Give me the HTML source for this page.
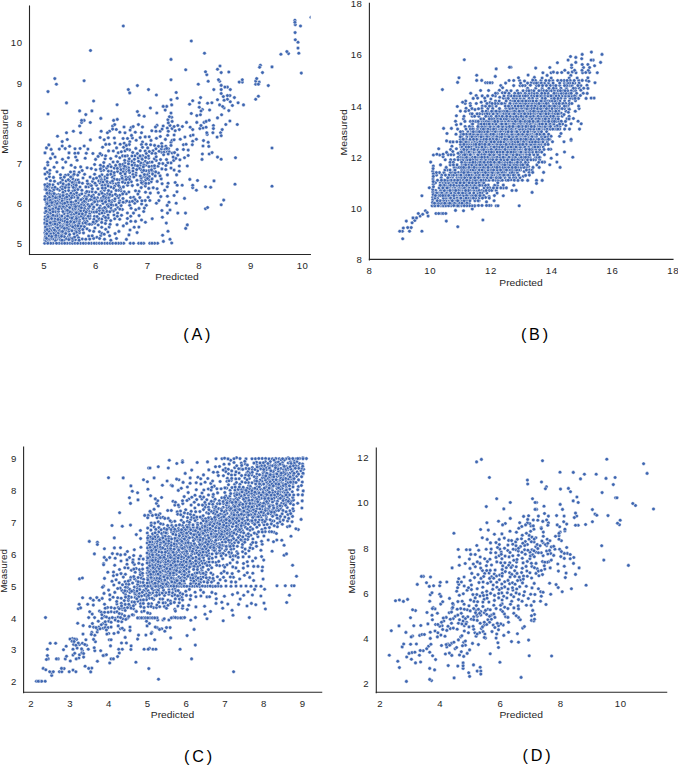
<!DOCTYPE html>
<html><head><meta charset="utf-8"><style>
html,body{margin:0;padding:0;background:#fff;width:678px;height:766px;overflow:hidden}
svg{display:block}
text{font-family:"Liberation Sans",sans-serif}
.t{font-size:9.60px;fill:#262626}
.l{font-size:9.30px;fill:#262626}
.p{font-size:16.20px;fill:#000}
.ax{stroke:#262626;stroke-width:1.1;stroke-linecap:square}
.pts{fill:none;stroke:none;marker-start:url(#m);marker-mid:url(#m);marker-end:url(#m)}
</style></head><body>
<svg width="678" height="766" viewBox="0 0 678 766">
<defs><clipPath id="clipA"><rect x="0" y="0" width="310.6" height="260"/></clipPath><marker id="m" markerUnits="userSpaceOnUse" markerWidth="6" markerHeight="6" refX="3" refY="3" overflow="visible"><circle cx="3" cy="3" r="1.80" fill="#3E66B1" stroke="#fff" stroke-width="0.45"/></marker></defs>
<path class="pts" clip-path="url(#clipA)" d="M219.6 81.3 45.1 212.8 49.7 240.1 114.1 175.2 46.2 202.1 175.2 182.5 100.8 178.2 59.6 199.3 49.3 225.0 117.6 213.1 77.4 229.9 49.3 176.7 139.0 191.4 124.9 182.8 103.0 203.4 171.0 168.1 50.9 232.0 171.0 113.1 176.2 203.2 52.1 233.1 259.2 82.1 64.7 185.2 145.8 165.3 55.4 224.9 135.7 209.8 76.5 227.4 108.0 215.1 57.5 136.2 157.1 188.7 72.5 223.7 142.7 183.6 75.0 148.8 167.3 128.1 156.2 160.5 116.6 147.9 224.1 108.0 68.9 221.9 105.1 158.8 56.8 162.5 200.4 114.8 143.7 181.9 137.0 180.3 47.4 185.4 70.3 229.9 151.9 166.2 114.2 168.1 57.7 205.2 213.4 125.5 47.5 237.1 79.5 232.7 150.4 108.0 105.9 208.8 76.0 183.2 139.0 115.3 70.2 214.2 65.1 191.0 62.2 141.6 44.9 232.8 90.3 122.5 66.0 211.3 138.9 227.1 51.6 211.1 150.6 144.8 122.4 209.5 105.0 176.9 50.6 226.9 65.7 162.1 157.0 125.4 65.7 201.6 111.3 171.4 56.2 238.2 203.5 140.6 230.3 101.8 53.4 237.0 142.7 155.7 268.3 85.6 93.3 195.0 72.2 185.7 209.2 154.0 74.4 228.0 82.8 198.7 46.8 235.9 69.9 217.5 84.9 206.2 49.0 215.7 64.0 240.3 70.0 243.3 146.2 144.3 102.6 147.2 60.7 178.0 64.2 195.0 219.6 104.9 136.2 140.3 173.7 160.4 142.5 142.0 78.2 202.9 64.3 196.7 301.3 73.1 202.4 109.6 190.6 135.7 65.7 209.3 46.9 190.4 66.5 102.9 48.4 213.6 77.7 220.0 149.8 162.2 78.5 217.3 126.7 223.4 155.5 127.0 106.7 195.6 120.9 190.7 100.8 235.6 148.8 188.4 158.5 173.0 120.2 166.5 153.1 150.7 235.5 157.7 54.7 210.3 183.4 149.5 156.4 95.0 92.9 199.8 44.9 168.4 79.2 172.3 101.9 174.8 78.3 211.7 52.5 230.7 52.7 153.9 129.7 205.3 105.0 184.9 45.0 152.9 145.2 151.1 137.4 85.6 69.8 181.0 76.9 195.4 65.5 216.8 74.0 194.1 59.9 228.0 228.8 72.0 117.8 207.5 71.0 211.2 55.0 233.6 157.6 243.3 86.0 218.7 48.8 211.9 82.7 225.5 96.4 185.3 103.8 162.6 88.5 186.8 52.9 220.1 50.9 221.9 54.0 235.1 217.5 157.1 99.0 194.4 72.8 191.0 139.0 208.4 145.2 200.6 50.4 180.8 118.9 231.4 120.2 144.2 57.8 232.0 260.4 65.2 89.7 218.4 223.3 96.6 86.8 223.9 59.4 190.3 167.5 213.1 65.9 232.5 133.2 168.2 129.6 201.9 255.7 99.3 130.6 197.5 54.1 167.2 79.4 230.6 107.7 193.4 101.7 227.3 192.7 100.7 139.8 197.6 62.5 180.1 168.5 148.7 68.4 236.5 90.1 177.1 71.6 214.5 168.0 231.3 165.2 110.1 134.7 203.3 74.0 220.0 186.5 122.4 166.7 106.4 92.1 211.9 155.6 153.5 78.2 153.1 52.3 191.3 73.1 217.0 100.1 137.5 66.7 205.9 68.0 213.3 54.0 217.5 87.1 167.8 57.5 234.8 164.9 149.3 183.4 144.7 151.2 181.8 58.3 183.6 203.0 128.0 207.6 103.2 112.4 200.5 171.0 162.9 119.7 200.8 148.8 173.0 165.8 169.5 137.2 201.2 79.5 228.3 175.8 158.4 115.3 209.6 45.4 229.1 131.9 161.4 272.0 186.2 243.5 104.9 114.0 215.0 109.7 164.7 118.5 197.6 55.1 227.6 131.1 208.3 85.3 214.7 52.5 187.8 55.9 232.9 72.8 222.2 132.4 138.0 57.9 229.5 148.7 158.1 45.2 239.0 59.3 232.4 114.6 200.8 154.6 168.0 69.0 204.3 125.0 150.9 49.8 227.5 45.3 216.7 152.1 162.1 167.9 119.8 53.0 184.8 179.9 159.8 255.7 84.2 68.2 174.8 85.7 243.3 76.9 209.3 66.4 238.7 167.8 162.8 57.1 239.2 161.7 152.2 152.4 171.4 46.0 225.2 53.9 233.1 171.7 117.2 149.8 200.5 77.1 207.7 208.2 142.3 55.0 238.8 75.3 239.8 68.6 198.6 88.4 200.5 227.4 99.3 132.3 185.6 130.7 216.2 100.2 206.0 69.8 237.6 45.9 209.8 80.7 166.9 78.4 207.4 45.3 224.3 170.0 210.0 204.1 122.4 101.8 155.0 101.4 198.3 97.4 197.8 138.2 157.9 145.3 161.3 66.5 132.8 149.2 136.8 117.1 224.7 75.6 157.0 93.0 208.8 57.0 171.8 102.1 185.4 115.1 233.6 71.7 220.0 147.3 174.9 141.6 204.0 105.0 179.6 85.6 202.3 77.2 235.6 149.0 179.5 118.2 152.7 126.2 171.6 98.3 220.0 49.4 173.6 288.5 53.6 75.6 230.9 46.5 147.9 71.6 212.1 47.8 165.0 94.6 174.2 53.4 197.3 69.0 210.1 56.2 216.6 75.3 225.6 82.3 239.0 44.7 243.3 54.0 206.7 272.0 148.0 94.9 228.0 170.0 239.3 116.1 183.9 192.7 141.2 98.0 188.8 109.7 196.5 48.1 240.7 164.7 190.2 92.0 191.6 55.3 240.5 177.0 191.8 52.9 238.9 101.8 219.1 101.8 233.3 84.1 120.4 134.2 163.0 66.4 185.4 127.6 185.3 187.3 166.0 72.8 175.7 229.9 95.6 242.3 82.1 94.8 223.2 108.6 150.9 48.4 200.9 59.4 205.1 82.2 170.5 149.8 243.3 150.3 193.1 56.1 226.7 97.1 204.7 171.0 59.4 220.0 66.0 114.9 143.1 208.8 146.4 73.6 202.6 191.3 113.5 152.1 178.9 123.7 243.3 62.5 218.8 103.6 170.2 160.6 159.6 101.7 222.4 63.8 224.4 96.5 243.3 177.2 149.5 45.6 222.0 53.1 204.4 141.5 144.6 167.4 151.7 65.2 148.6 141.5 220.0 74.6 210.4 135.5 190.8 51.1 238.3 105.6 155.8 142.2 171.9 190.2 127.2 196.8 115.6 68.5 224.9 49.5 204.5 96.9 237.3 91.3 168.6 99.5 213.8 136.0 173.1 65.2 218.4 51.6 216.6 104.4 190.2 125.3 202.1 80.8 226.2 137.9 194.1 77.7 222.4 70.5 225.8 143.7 243.3 163.2 106.4 123.0 198.5 171.7 243.0 154.6 243.3 52.0 198.0 135.0 155.8 80.3 214.0 76.8 215.3 57.4 237.0 192.3 144.7 163.2 126.0 44.9 240.1 45.5 186.9 72.5 243.3 161.3 149.0 201.0 111.0 52.9 228.5 171.0 142.3 79.3 209.1 67.0 194.6 47.3 233.1 50.9 224.6 234.4 97.6 66.7 199.5 109.0 204.0 258.4 84.2 120.5 188.8 57.3 189.0 140.3 165.3 217.5 69.3 97.8 201.2 93.1 203.1 221.2 85.4 111.4 202.5 79.3 200.1 101.1 170.7 118.5 190.3 114.6 186.3 48.7 239.4 199.3 107.3 50.7 213.1 93.6 238.4 146.3 153.5 168.1 183.2 51.6 204.8 210.7 187.3 112.8 183.0 202.4 154.0 146.3 205.3 69.4 201.8 52.6 222.2 80.6 243.3 140.9 169.6 65.4 175.2 100.0 183.0 143.8 176.7 160.1 131.2 94.6 164.5 66.1 181.0 63.5 199.9 113.4 211.1 108.5 198.1 107.7 184.0 72.5 240.6 68.7 187.6 145.4 222.3 53.0 243.3 58.6 194.5 90.6 199.6 48.7 189.4 163.9 152.3 67.3 139.5 113.6 188.1 262.5 72.6 74.5 214.0 131.2 127.5 220.6 132.7 229.9 121.0 76.6 192.7 137.1 232.6 129.6 172.5 255.7 81.1 101.8 167.4 119.8 132.2 79.7 194.9 61.0 187.3 206.8 74.7 68.3 179.7 104.5 239.2 117.3 216.3 53.5 224.2 118.5 182.9 124.9 169.7 62.2 146.0 115.0 198.8 93.6 101.0 205.5 186.7 89.9 184.5 60.8 206.0 84.1 80.7 132.7 152.5 162.4 217.2 55.1 157.0 73.3 209.7 104.8 243.3 70.2 199.3 140.2 150.7 132.9 171.1 86.3 153.3 237.3 124.5 85.8 114.6 221.2 72.6 119.8 209.1 87.9 149.1 172.1 153.0 67.6 216.1 47.1 207.2 47.3 227.7 65.8 230.3 94.5 216.4 85.9 186.9 131.3 181.7 126.4 239.4 76.2 217.0 59.0 234.0 179.3 171.2 62.8 233.2 124.2 143.2 156.4 203.2 143.7 211.5 137.4 153.6 72.8 208.6 116.1 204.9 112.6 126.0 98.8 180.9 101.1 191.8 81.8 193.8 217.5 117.9 176.6 174.9 133.2 126.6 95.7 199.4 55.8 196.2 53.5 177.4 59.3 149.1 137.7 184.8 104.4 212.7 143.1 163.6 68.9 231.3 83.4 216.1 121.5 215.3 123.3 26.0 130.3 243.3 94.0 219.3 80.7 210.9 105.8 144.4 84.4 226.8 177.8 155.1 106.0 220.5 145.7 177.5 110.7 220.6 184.5 157.7 62.0 208.5 156.4 138.3 48.7 233.8 48.9 187.6 85.4 210.7 102.5 208.7 107.4 243.3 227.4 87.1 49.8 170.2 119.7 187.1 172.1 140.2 81.6 122.5 81.1 199.7 212.1 152.6 55.7 205.3 61.5 224.8 68.7 190.6 112.8 205.2 192.7 187.7 171.0 99.7 141.2 180.4 48.0 91.6 78.6 237.8 119.8 195.2 108.2 217.9 179.3 129.6 140.7 162.9 154.6 145.4 56.4 220.4 50.2 208.4 126.1 168.5 54.4 203.4 45.5 235.1 83.7 204.8 128.6 161.1 192.7 129.6 103.5 166.4 57.2 200.7 72.7 226.9 55.3 194.5 74.4 181.4 58.5 213.9 212.9 132.7 119.1 179.7 75.8 204.0 66.1 225.9 88.7 236.1 91.9 110.9 227.4 95.6 94.4 197.9 129.2 158.8 45.0 219.6 91.7 204.5 221.2 93.5 119.7 219.3 145.2 136.9 77.1 199.3 46.6 204.5 242.3 79.7 109.2 227.1 295.3 24.7 82.7 202.6 81.1 204.9 152.2 218.7 77.7 175.1 85.9 200.1 50.5 158.4 153.2 187.7 89.0 211.3 199.9 128.6 81.3 216.2 47.2 172.3 214.0 180.9 116.2 156.3 88.8 195.2 76.7 220.7 73.4 131.2 298.0 42.3 129.5 149.9 105.8 199.9 61.8 234.6 99.4 231.8 64.7 227.3 286.9 51.6 224.1 100.3 91.7 224.3 222.2 129.6 92.9 153.5 57.0 210.4 152.6 174.1 46.4 178.7 110.7 158.6 48.5 195.0 89.7 214.0 104.2 139.7 121.9 176.2 95.7 192.3 60.5 174.8 58.8 202.6 217.1 137.1 98.6 218.4 85.2 158.2 74.7 190.1 84.9 196.3 112.4 177.2 118.6 185.6 47.2 198.5 138.7 243.3 165.8 146.2 69.1 223.7 206.1 121.4 108.3 171.1 69.3 195.8 135.7 175.3 163.4 241.4 151.8 130.8 147.5 162.9 145.3 186.1 73.9 197.2 59.5 224.6 68.2 227.0 256.7 78.6 76.1 180.0 60.2 195.0 50.6 233.9 189.6 104.2 111.2 210.2 145.8 179.8 295.3 39.8 97.4 209.7 59.4 206.9 47.4 184.1 126.4 193.8 71.0 206.1 196.4 139.2 79.6 110.9 134.4 159.3 82.9 223.0 174.5 152.6 57.9 221.5 104.4 194.6 167.4 174.9 294.9 20.2 177.2 185.2 185.5 213.1 77.9 189.4 188.2 150.1 138.4 124.6 44.9 184.7 64.1 213.7 213.4 128.6 55.1 219.0 47.3 234.8 95.6 159.4 123.1 202.3 198.3 84.2 56.6 212.8 44.8 223.0 182.4 126.5 112.6 129.1 75.8 201.0 129.8 176.9 127.2 149.3 58.4 236.1 148.2 197.3 57.6 214.7 71.4 204.4 223.7 200.1 87.7 183.6 141.2 187.6 101.2 131.2 186.1 144.3 151.9 153.3 168.3 131.2 109.6 235.8 123.1 171.6 82.4 183.2 56.8 203.4 100.4 165.2 196.8 122.4 60.5 226.1 70.9 193.2 158.9 200.6 49.5 197.2 45.2 237.8 148.7 183.3 84.5 208.6 169.4 116.7 173.1 157.1 60.7 182.5 120.9 169.6 48.8 219.5 171.0 79.7 92.6 181.4 68.3 229.1 59.1 243.3 93.5 178.8 59.9 238.0 89.5 224.3 110.8 207.8 160.8 196.6 57.5 197.6 185.7 228.4 112.2 195.5 298.8 53.2 207.2 134.4 141.1 157.3 67.2 219.5 48.0 114.0 116.5 238.5 62.0 243.3 128.5 163.9 64.9 198.1 80.6 132.8 90.0 216.1 86.6 197.2 133.7 197.3 77.9 197.7 65.7 222.7 142.2 159.2 127.5 138.5 127.4 218.5 107.2 204.9 133.0 174.5 88.9 191.9 72.3 182.6 222.7 106.5 74.2 222.2 78.1 180.0 174.1 170.1 221.2 89.6 69.0 152.9 311.0 17.3 106.7 168.1 98.2 225.0 47.4 225.3 103.7 216.3 142.5 147.3 161.2 178.9 169.2 151.9 84.5 221.0 66.5 228.0 100.4 200.8 56.5 222.4 156.0 131.2 46.1 240.6 174.1 195.5 80.1 148.5 70.7 238.6 80.0 187.0 83.5 232.9 68.8 239.6 148.4 156.0 145.7 157.4 105.5 201.9 166.7 148.4 139.1 215.6 84.4 201.2 124.8 162.7 139.3 168.2 91.3 243.3 117.5 171.5 158.0 166.2 76.3 232.3 177.8 125.5 61.6 197.0 135.5 221.4 171.0 145.4 86.8 210.6 105.3 188.1 129.8 141.7 48.5 221.7 125.0 132.8 48.8 227.9 50.8 230.1 101.4 179.9 114.7 218.8 46.9 221.0 145.5 192.2 187.3 224.9 96.5 221.2 68.4 157.8 103.7 198.5 79.7 220.1 53.6 198.5 128.6 167.9 117.6 161.8 156.8 113.0 142.5 127.0 205.5 71.8 62.9 167.7 102.1 193.3 91.5 185.8 162.1 129.1 133.5 213.1 75.4 187.2 48.3 191.9 123.9 168.3 114.2 179.1 175.2 130.7 123.3 225.9 162.8 163.6 62.4 220.8 117.1 179.5 59.6 215.7 52.2 200.6 122.6 164.5 135.3 132.2 121.1 205.6 163.6 154.8 69.7 207.6 94.2 212.1 106.9 211.4 161.7 143.5 74.9 153.2 92.4 188.8 197.5 180.5 84.2 146.0 170.0 125.5 49.7 190.9 79.1 182.4 67.1 224.7 47.0 218.2 68.8 184.4 70.6 221.6 138.5 161.3 82.3 213.8 49.2 206.2 158.5 146.3 51.4 194.4 127.3 155.8 55.0 211.8 97.1 216.5 105.7 229.3 62.5 189.0 110.1 243.3 141.5 182.7 99.6 176.3 74.1 206.4 86.9 221.3 126.0 166.7 96.5 178.0 141.2 177.9 125.9 176.9 58.5 217.2 123.6 180.0 84.1 210.8 56.5 243.3 128.2 177.8 156.0 148.8 99.3 243.3 75.0 243.3 71.2 202.1 45.2 189.5 58.3 232.9 191.3 41.0 180.3 139.2 111.1 191.9 105.4 223.5 45.0 174.1 53.0 196.1 55.6 231.1 258.4 96.2 137.4 111.6 60.2 217.8 88.8 243.3 154.4 158.8 100.1 153.6 47.3 203.6 93.7 231.4 128.9 170.4 167.3 186.8 108.0 166.2 109.3 144.3 129.3 144.6 112.7 243.3 217.5 99.7 57.7 227.8 110.9 187.0 88.6 208.3 90.4 139.9 94.2 243.3 196.4 190.2 116.1 190.4 177.8 213.1 56.4 84.2 74.1 171.9 58.5 211.2 162.0 146.5 46.2 189.6 69.6 211.7 72.7 178.7 143.8 165.2 78.0 206.1 101.8 243.3 62.8 226.0 72.2 195.9 59.7 230.5 129.5 179.4 109.5 131.2 54.8 78.6 110.6 182.4 95.0 183.2 168.2 154.0 49.1 236.0 126.2 179.5 74.1 174.3 60.9 202.9 105.4 197.6 145.8 183.4 47.6 215.3 114.2 172.6 62.6 227.4 101.3 181.7 54.0 189.6 300.5 26.0 160.3 136.5 224.9 87.1 189.8 179.4 172.1 128.6 48.9 186.6 182.2 185.2 144.4 174.6 149.1 170.6 107.1 178.0 294.9 22.3 47.7 162.3 108.1 186.0 111.1 166.8 83.2 218.4 67.1 243.3 141.2 243.3 62.7 186.1 143.3 166.9 161.9 168.9 218.5 79.7 74.1 184.8 148.5 89.6 65.2 187.6 83.0 178.0 76.4 218.5 239.2 82.1 50.7 243.3 45.6 236.9 103.4 196.4 71.2 165.2 127.4 213.0 232.4 105.5 109.2 200.7 63.0 192.4 77.7 243.3 63.1 183.8 59.5 222.5 47.4 239.1 50.2 202.2 120.9 243.3 128.2 182.7 124.2 191.9 73.3 187.4 118.4 243.3 57.0 224.5 55.0 201.5 64.7 243.3 149.3 151.5 221.2 159.2 45.6 230.7 131.9 156.0 295.1 32.6 82.8 229.5 208.2 81.3 159.1 151.3 130.0 230.0 167.7 135.3 103.0 182.0 115.7 165.4 171.7 104.9 135.8 148.4 48.4 226.2 49.4 229.1 128.9 234.9 65.0 221.4 113.3 151.0 201.0 125.5 99.4 210.5 126.7 201.0 108.5 206.4 49.2 193.3 169.0 202.2 149.2 176.6 124.0 127.0 129.7 92.9 53.0 202.2 205.5 208.7 140.2 137.6 146.0 170.8 117.0 195.7 165.4 139.4 209.6 110.0 78.9 213.8 83.3 243.3 62.0 198.7 152.0 243.3 86.0 212.3 104.2 234.2 81.9 190.3 111.2 204.8 259.6 67.3 119.8 157.7 174.1 139.8 123.1 138.5 88.2 216.3 128.9 192.0 93.8 207.1 62.9 211.6 156.2 156.8 79.3 221.8 115.8 243.3 135.1 199.5 235.0 184.2 107.0 181.6 166.3 223.1 45.1 196.6 85.8 239.2 155.2 175.9 165.9 165.5 50.4 200.4 123.4 186.9 54.7 221.7 64.3 236.6 62.2 201.0 99.6 238.5 108.5 190.6 63.8 229.9 151.5 169.9 56.1 207.7 100.8 118.4 272.0 66.9 206.1 127.2 110.7 174.2 202.0 159.4 79.0 223.7 48.9 209.2 79.7 206.6 64.3 207.3 50.1 210.0 116.3 129.5 64.3 228.4 45.5 208.1 207.6 207.5 213.8 89.6 157.2 181.4 109.8 211.8 81.6 120.4 110.8 240.2 56.9 215.8 61.3 231.5 128.3 89.6 160.1 175.9 162.1 183.7 141.5 132.8 221.2 135.7 47.0 193.3 211.9 102.8 61.5 236.3 115.4 194.3 113.1 162.0 99.4 208.0 46.6 226.6 72.7 238.4 149.0 166.6 144.4 208.1 74.7 204.8 199.3 102.8 60.0 196.6 54.5 181.2 209.2 120.3 132.4 201.3 193.1 135.0 102.0 200.8 75.3 208.5 71.8 218.0 93.2 222.1 48.8 144.9 75.1 167.5 74.6 237.0 67.2 222.2 159.1 163.5 74.0 233.7 63.2 206.4 147.5 178.5 125.1 173.9 103.1 210.8 230.3 89.6 50.3 222.8 184.5 198.4 192.7 185.2 206.8 132.7 90.5 50.5 109.8 194.5 55.0 187.2 67.4 210.3 121.3 151.8 200.6 97.6 143.7 170.4 52.8 209.0 104.7 207.5 119.1 202.8 72.0 230.7 151.0 140.4 117.1 104.7 102.0 213.0 55.6 197.7 100.4 168.9 123.6 147.3 238.1 102.8 184.9 137.1 172.1 121.4 131.5 135.4 81.4 207.8 117.3 119.4 45.5 227.0 122.6 155.9 122.7 193.9 60.3 219.7 162.6 235.2 54.4 230.0 60.6 239.9 77.9 225.8 105.5 217.5 280.9 54.3 48.7 231.3 155.7 171.9 95.8 169.8 76.2 185.3 69.6 234.6 179.3 166.0 85.8 192.9 44.9 199.5 110.1 224.3 69.6 146.3 91.6 196.4 48.2 216.9 174.1 135.0 71.5 197.7 122.5 182.1 46.7 233.7 185.7 69.8 120.5 173.4 130.8 221.3 107.5 174.9 62.5 231.5 79.6 126.0 86.8 191.5 65.7 233.5 166.5 159.6 124.6 166.2 168.3 122.9 70.7 177.0 203.0 146.0 113.6 120.4 46.4 238.3 62.5 159.3 67.1 202.2 221.6 114.8 298.0 48.1 66.7 197.0 167.4 196.2 47.8 243.3 54.7 215.9 77.1 160.3 112.5 181.1 133.8 177.0 63.0 195.5 107.9 232.0 55.0 224.0 122.1 178.2 228.8 110.6 130.1 130.1 62.8 203.7 51.7 236.5 117.3 168.4 154.5 165.8 147.7 147.9 174.1 126.5 177.2 98.2 58.5 209.0 114.3 138.0 225.8 124.5 76.2 212.8 107.4 132.8 61.9 216.0 119.9 164.5 176.2 92.5 49.5 184.6 140.0 155.9 46.1 211.3 126.3 145.4 84.6 174.3 136.7 169.6 87.2 181.0 134.2 227.2 47.4 186.4 88.0 204.6 79.1 240.2 89.7 239.1 89.6 206.4 87.0 228.8 102.3 188.1 51.1 149.4 51.6 218.6 141.9 200.8 64.3 177.1 94.7 201.8 53.0 211.7 188.2 155.5 86.3 198.9 98.1 156.4 96.5 211.9 204.5 53.2 135.1 165.3 161.9 210.5 124.7 160.3 64.7 203.2 75.6 206.6 140.3 176.0 62.0 240.2 92.2 235.8 55.8 237.1 53.0 215.2 70.5 172.0 132.0 165.1 144.2 116.3 85.4 222.8 125.1 156.1 89.6 230.6 54.0 193.6 167.2 205.4 51.8 202.6 133.5 243.3 137.5 165.9 158.3 192.7 47.1 229.5 108.3 137.8 55.9 235.4 114.7 124.6 221.2 204.8 58.0 219.4 46.8 224.1"/>
<line class="ax" x1="29.5" y1="6.0" x2="29.5" y2="254.5"/>
<line class="ax" x1="29.5" y1="254.5" x2="310.4" y2="254.5"/>
<text class="t" x="43.9" y="268.8" text-anchor="middle" letter-spacing="0.0">5</text>
<text class="t" x="95.6" y="268.8" text-anchor="middle" letter-spacing="0.0">6</text>
<text class="t" x="147.3" y="268.8" text-anchor="middle" letter-spacing="0.0">7</text>
<text class="t" x="198.9" y="268.8" text-anchor="middle" letter-spacing="0.0">8</text>
<text class="t" x="250.6" y="268.8" text-anchor="middle" letter-spacing="0.0">9</text>
<text class="t" x="302.6" y="268.8" text-anchor="middle" letter-spacing="0.6">10</text>
<text class="t" x="22.1" y="246.7" text-anchor="end" letter-spacing="0.0">5</text>
<text class="t" x="22.1" y="206.7" text-anchor="end" letter-spacing="0.0">6</text>
<text class="t" x="22.1" y="166.6" text-anchor="end" letter-spacing="0.0">7</text>
<text class="t" x="22.1" y="126.6" text-anchor="end" letter-spacing="0.0">8</text>
<text class="t" x="22.1" y="86.5" text-anchor="end" letter-spacing="0.0">9</text>
<text class="t" x="22.7" y="46.4" text-anchor="end" letter-spacing="0.6">10</text>
<text class="l" x="177.0" y="280.1" text-anchor="middle" textLength="43.4" lengthAdjust="spacingAndGlyphs">Predicted</text>
<text class="l" transform="translate(7.8 131.4) rotate(-90)" text-anchor="middle" textLength="44.5" lengthAdjust="spacingAndGlyphs">Measured</text>
<text class="p" x="198.2" y="339.7" text-anchor="middle" letter-spacing="2.8">(A)</text>
<path class="pts" d="M513.4 121.4 475.0 205.5 438.7 193.0 496.2 190.4 495.0 170.0 451.9 146.2 468.9 195.6 450.2 164.9 437.7 198.1 562.2 95.9 527.1 111.2 497.8 129.1 505.7 157.2 587.0 85.2 514.6 129.1 536.7 124.0 522.2 136.8 439.6 155.0 579.1 108.6 520.2 98.4 586.5 80.5 561.0 103.5 457.3 167.4 441.7 175.1 499.4 90.2 572.8 157.2 531.6 136.8 487.5 159.8 500.7 149.5 523.3 176.3 482.3 106.1 506.2 149.5 496.5 164.9 543.7 108.6 472.3 126.5 495.6 131.7 470.4 121.4 498.8 121.4 514.1 136.8 534.5 124.0 472.3 209.0 503.4 187.9 546.6 101.0 521.0 157.2 508.2 126.5 551.1 113.8 500.3 103.5 442.1 190.5 485.6 106.1 488.5 136.8 525.8 118.9 527.6 152.1 497.1 141.9 421.9 195.8 485.8 170.0 534.4 121.4 549.8 164.8 546.2 139.3 435.8 190.5 520.3 108.6 531.2 90.7 544.5 139.3 499.5 113.8 456.0 190.5 507.9 170.0 533.6 134.2 485.0 157.2 520.7 118.9 505.1 116.3 463.4 177.7 526.9 131.7 518.8 164.9 440.3 182.8 535.5 157.2 538.5 124.0 472.2 149.5 440.6 190.5 594.1 98.1 530.2 134.2 510.3 154.7 515.0 175.1 565.1 98.4 547.0 126.5 440.8 205.8 571.6 67.5 518.4 136.8 440.8 193.0 542.2 129.1 444.9 193.0 573.0 98.4 500.4 164.9 494.1 200.7 420.1 216.1 454.7 200.7 444.9 187.9 528.2 106.1 533.5 118.9 530.0 157.2 488.8 187.9 492.1 82.7 510.2 113.8 556.6 101.0 559.6 108.6 557.0 116.3 501.4 111.2 435.7 203.2 539.9 157.2 510.9 179.8 455.0 203.2 445.2 159.8 492.1 106.1 494.8 144.4 544.7 83.1 543.8 101.0 444.9 205.8 522.4 111.2 466.0 187.9 478.3 187.9 549.3 126.5 525.0 85.6 434.9 193.0 556.9 162.1 467.9 180.2 442.3 195.6 528.4 124.0 445.9 185.3 477.3 177.7 484.5 149.5 552.5 106.1 515.7 149.5 433.0 179.0 456.4 115.8 477.3 154.7 499.9 131.7 468.3 175.1 517.5 103.5 478.2 195.6 544.5 162.1 494.2 113.8 450.7 159.8 504.6 164.9 436.6 193.0 478.9 159.8 461.0 180.2 512.0 190.5 487.8 134.2 557.7 80.5 475.0 144.4 485.5 149.5 524.4 159.8 498.5 152.1 567.0 118.9 481.6 141.9 482.7 131.7 479.2 175.1 528.7 116.3 493.0 152.1 470.2 182.8 494.4 162.3 503.7 141.9 439.4 172.6 458.0 203.2 501.3 134.2 478.0 170.0 435.6 205.8 552.7 95.9 514.0 103.5 499.2 124.0 474.4 147.0 541.5 103.5 506.1 131.7 510.1 175.1 520.0 177.7 470.1 149.5 500.4 180.2 468.6 177.7 447.5 198.1 488.4 116.3 470.4 190.5 457.8 198.1 469.7 157.2 500.1 124.0 487.7 95.9 516.6 121.4 544.6 118.9 521.9 154.7 450.2 141.9 506.9 152.1 479.1 200.7 536.2 144.4 471.8 185.3 519.3 157.2 476.2 95.5 485.7 162.3 490.6 144.4 425.4 210.8 532.4 147.0 470.7 172.6 474.3 175.1 535.7 116.3 443.1 182.8 482.0 121.4 523.0 136.8 522.5 131.7 484.1 144.4 510.2 159.8 564.0 141.8 455.2 182.8 498.4 159.8 591.4 52.1 457.7 182.8 530.8 131.7 539.0 111.2 542.2 88.2 443.4 180.2 462.6 131.7 543.2 147.0 456.4 124.7 522.0 141.9 484.3 121.4 540.9 144.4 492.5 154.7 453.3 187.9 488.7 131.7 531.9 111.2 441.1 200.7 557.7 111.2 539.8 139.3 442.4 205.8 487.9 149.5 489.5 175.1 457.1 203.2 482.2 152.1 559.8 85.6 452.5 177.7 455.7 182.8 498.1 154.7 469.4 126.5 556.0 88.2 520.6 159.8 528.6 166.5 529.2 93.3 510.2 118.9 433.0 205.7 496.2 68.9 457.3 106.5 482.5 113.8 474.9 200.7 485.6 82.7 467.9 131.7 459.6 154.7 520.4 136.8 567.3 95.9 529.0 144.4 536.1 106.1 494.3 177.7 496.1 126.5 494.7 162.3 486.9 154.7 512.3 147.0 482.9 220.0 519.2 162.3 543.6 172.4 503.6 139.3 453.6 154.7 487.1 180.2 513.5 129.1 495.3 175.1 515.2 118.9 542.4 111.2 559.4 106.1 558.2 93.3 464.6 149.5 460.3 152.1 487.4 136.8 518.9 118.9 532.4 129.1 494.4 159.8 523.3 157.2 502.7 103.5 510.4 157.2 432.1 205.8 541.9 116.3 487.8 157.2 438.7 148.8 540.3 121.4 547.6 113.8 541.6 121.4 488.5 141.9 492.5 144.4 486.5 201.9 491.5 129.1 486.8 157.2 532.1 192.4 486.2 136.8 480.6 152.1 573.5 90.7 513.8 170.0 479.5 126.5 470.0 180.2 450.1 162.3 532.9 106.1 555.7 93.3 480.7 157.2 468.8 110.5 511.1 95.9 548.2 101.0 414.8 220.5 513.8 141.9 521.5 111.2 503.5 136.8 547.3 141.9 499.6 139.3 489.5 134.2 493.8 111.2 514.3 126.5 571.3 90.7 447.0 133.5 453.0 172.6 450.6 182.8 564.3 83.1 558.8 111.2 553.5 103.5 489.4 149.5 517.7 149.5 477.2 159.8 486.6 131.7 485.1 113.8 549.4 121.4 542.6 95.9 470.9 187.9 510.5 101.0 515.7 177.7 508.8 118.9 445.5 198.1 442.4 89.6 543.3 126.5 549.7 95.9 466.9 136.8 466.8 170.0 487.7 82.7 536.6 131.7 516.3 98.4 465.2 103.5 479.8 172.6 447.4 203.2 502.2 147.0 518.4 131.7 478.4 162.3 581.2 123.8 588.8 81.3 488.5 154.7 507.7 121.4 583.5 67.5 508.3 95.9 507.2 147.0 490.7 139.3 488.1 126.5 503.3 195.8 557.1 118.9 527.7 141.9 490.9 205.5 491.8 121.4 432.8 192.0 473.1 144.4 506.7 90.7 476.2 170.0 587.2 93.4 471.5 144.4 475.6 190.5 460.9 203.2 482.5 139.3 451.2 205.7 542.9 118.9 543.3 121.4 564.1 80.5 481.5 177.7 477.8 193.0 589.6 72.5 523.1 106.1 525.7 121.4 421.9 231.2 505.7 164.9 519.0 134.2 528.5 103.5 503.8 144.4 505.6 83.1 494.2 159.8 443.6 193.0 464.7 159.8 535.7 68.1 453.5 182.8 569.1 85.6 494.1 124.0 480.8 175.1 529.9 126.5 558.9 90.7 465.3 144.4 485.3 177.7 597.3 72.7 494.2 152.1 477.5 175.1 486.7 172.6 521.5 134.2 539.2 131.7 455.5 121.2 542.3 108.6 492.5 136.8 566.0 111.2 469.6 195.6 557.1 106.1 460.9 187.9 502.3 154.7 532.9 121.4 538.7 152.1 550.3 101.0 475.1 152.1 435.5 182.8 525.7 131.7 516.2 152.1 445.6 182.8 525.9 106.1 526.4 167.4 544.1 113.8 493.7 164.9 483.9 134.2 493.9 175.1 496.2 205.8 458.1 153.3 441.7 195.6 523.1 154.7 460.2 200.7 497.1 147.0 539.2 167.4 503.9 154.7 539.2 95.9 470.5 113.8 466.7 200.7 520.1 134.2 497.3 93.3 543.9 103.5 519.0 116.3 510.9 136.8 516.4 126.5 533.1 149.5 505.8 134.2 505.2 154.7 497.8 131.7 507.7 149.5 523.8 134.2 474.6 205.9 556.0 126.5 469.0 154.7 513.4 98.4 478.7 149.5 437.5 180.2 535.5 159.8 526.7 134.2 580.8 85.6 568.7 108.6 548.4 129.1 529.5 136.8 449.0 185.3 459.2 193.0 511.7 116.3 521.8 149.5 472.3 147.0 479.6 154.7 499.7 97.3 502.3 136.8 557.0 108.6 505.3 159.8 487.9 177.7 513.7 85.6 482.2 95.9 473.5 154.7 534.8 103.5 560.8 98.4 526.5 147.0 511.1 121.4 450.0 187.9 474.1 159.8 478.6 157.2 531.9 103.5 511.5 157.2 527.9 162.3 472.0 141.9 487.7 111.2 492.4 126.5 525.6 129.1 513.5 177.5 462.3 157.2 529.0 121.4 448.2 203.2 470.4 185.3 514.8 136.8 476.7 172.6 508.9 134.2 570.8 75.4 508.4 162.3 565.5 95.9 497.2 175.1 556.7 121.4 532.2 93.3 461.2 134.2 490.1 131.7 458.1 195.6 538.6 106.1 526.0 124.0 422.7 214.3 521.3 124.0 550.1 116.3 436.0 213.5 504.8 147.0 548.7 83.1 534.6 116.3 501.4 152.1 549.8 139.3 433.3 166.0 545.0 129.1 446.4 203.2 532.8 144.4 457.6 129.1 487.9 147.0 477.5 152.1 507.1 170.0 481.9 139.3 478.6 139.3 507.4 121.4 529.3 170.0 574.8 83.1 471.2 198.1 436.6 175.1 433.3 184.2 535.1 139.3 533.3 159.8 485.2 154.7 517.8 121.4 461.1 190.5 578.6 106.1 509.4 177.7 481.9 154.7 478.7 124.0 505.5 172.6 552.3 124.0 491.7 131.7 546.9 129.1 468.5 144.4 480.8 147.0 469.3 203.2 489.2 170.0 517.9 116.3 536.4 113.8 466.8 177.7 495.9 177.7 453.3 180.2 497.5 134.2 515.5 113.8 473.9 172.6 448.6 182.8 450.6 149.5 462.6 170.0 446.1 200.7 532.9 95.9 520.5 93.3 578.5 98.4 486.8 170.0 434.6 195.6 442.6 200.7 473.9 190.5 550.3 129.1 532.2 124.0 511.9 164.9 402.4 231.2 535.2 129.1 513.8 113.8 483.5 154.7 473.7 141.9 487.7 139.3 498.7 144.4 514.0 172.6 495.0 164.9 535.7 88.2 461.0 159.8 463.8 172.6 474.7 162.3 489.1 157.2 470.6 180.2 457.6 187.9 522.8 129.1 490.3 172.6 508.1 164.9 484.4 147.0 494.2 126.5 471.9 187.9 495.6 172.6 555.4 108.6 548.0 111.2 559.1 121.4 570.1 98.4 510.1 149.5 451.4 190.5 559.6 136.2 511.6 159.8 509.1 170.0 441.3 213.5 546.5 121.4 551.8 98.4 474.5 121.4 501.9 167.4 542.6 101.0 492.7 162.3 463.2 164.9 506.8 167.4 549.8 124.0 468.9 187.9 531.7 95.9 412.1 222.8 456.9 141.8 537.7 131.7 477.6 129.1 498.7 170.0 461.9 136.8 489.1 205.5 445.6 198.1 495.3 95.9 470.2 103.5 540.5 124.0 495.2 134.2 507.6 157.2 510.3 111.2 454.4 193.0 532.3 126.5 504.2 164.9 581.7 58.7 575.6 90.7 471.9 134.2 486.4 121.4 534.2 95.9 510.4 129.1 541.2 90.7 444.0 172.6 536.7 113.8 477.4 190.5 536.6 116.3 517.3 118.9 537.9 113.8 494.2 136.8 521.3 157.2 561.7 72.5 567.5 93.3 519.8 134.2 471.4 152.1 501.8 154.7 514.9 154.7 468.0 149.5 522.1 159.8 512.6 152.1 515.5 126.5 463.5 118.9 534.8 136.8 471.9 154.7 468.1 164.9 518.7 167.4 432.8 197.2 530.0 106.1 468.3 141.9 490.9 139.3 474.2 172.6 533.3 147.0 456.1 195.6 461.6 205.6 526.4 141.9 460.9 124.0 522.6 113.8 466.7 141.9 432.8 199.8 459.4 203.2 501.6 113.8 470.5 105.8 495.5 101.0 492.4 164.9 542.2 180.4 517.4 172.6 567.1 106.1 457.0 177.7 510.9 67.2 470.6 159.8 427.2 212.6 416.5 217.9 462.1 167.4 464.9 152.1 499.5 136.8 530.7 108.6 564.6 108.6 465.6 180.2 479.2 198.1 503.8 129.1 524.8 124.0 513.1 157.2 522.7 152.1 512.2 124.0 487.9 108.6 538.8 116.3 539.8 141.9 503.0 159.8 440.5 164.9 483.5 126.5 443.1 213.5 552.3 111.2 544.9 95.9 524.0 152.1 480.0 134.2 468.8 193.0 451.9 195.6 480.6 170.0 559.9 126.5 523.2 103.5 402.7 238.8 477.0 157.2 477.5 185.3 446.3 221.1 497.5 111.2 491.1 116.3 516.1 103.5 535.9 149.5 505.0 177.7 470.8 147.0 534.4 77.4 507.5 164.9 570.5 56.5 485.0 177.7 508.1 175.1 490.7 167.4 543.4 136.8 545.1 144.4 480.8 118.9 523.3 124.0 520.4 170.0 469.4 198.1 403.3 228.0 491.9 157.2 558.8 95.9 537.9 101.0 489.4 164.9 500.3 167.4 532.7 126.5 505.4 136.8 526.6 118.9 578.7 80.5 544.0 149.5 532.1 170.1 466.3 144.4 582.6 72.8 497.7 103.5 509.7 167.4 569.1 101.0 537.1 157.2 443.7 203.2 530.3 118.9 542.8 113.8 481.2 149.5 499.2 129.1 525.6 175.4 477.6 144.4 552.7 80.5 515.1 164.9 453.5 203.2 526.9 144.4 477.0 134.2 481.5 180.2 524.2 171.5 443.7 200.7 518.5 116.3 549.2 90.7 517.7 113.8 468.7 162.3 552.0 108.6 489.7 147.0 533.3 131.7 438.9 195.6 507.9 144.4 529.1 172.6 488.2 185.1 429.3 187.8 449.7 177.7 575.9 95.9 502.2 139.3 505.2 175.1 571.6 95.9 548.1 144.4 483.3 141.9 467.5 157.2 547.1 106.1 503.2 113.8 481.2 182.8 509.1 139.3 570.4 85.6 503.9 131.7 447.4 190.5 552.6 113.8 528.9 118.9 489.7 187.9 543.6 116.3 495.3 147.0 503.0 144.4 463.1 144.4 475.7 198.1 500.8 187.9 460.9 147.0 482.0 149.5 482.2 159.8 508.0 154.7 452.4 198.1 533.8 154.7 483.3 190.5 461.6 195.6 510.9 144.4 490.0 136.8 544.4 154.7 468.1 195.6 473.3 175.1 531.9 134.2 484.0 172.6 525.7 129.1 551.1 136.2 459.5 187.9 502.3 162.3 538.1 126.5 539.6 159.8 491.5 136.8 472.2 167.4 528.7 139.3 472.1 177.7 559.9 101.0 503.1 170.0 497.2 177.7 511.0 134.2 457.0 164.9 474.6 157.2 492.7 108.6 482.6 124.0 451.9 175.1 486.1 111.2 495.1 154.7 531.5 121.4 532.6 116.3 509.1 141.9 470.0 175.1 476.2 177.7 483.5 159.8 464.3 162.3 510.5 134.2 502.5 149.5 522.6 134.2 510.1 147.0 480.0 182.8 523.4 121.4 541.6 124.0 521.9 121.4 466.8 193.0 518.1 108.6 520.2 103.5 436.3 172.6 498.3 113.8 449.6 200.7 529.0 147.0 481.9 190.5 487.6 157.2 512.0 149.5 478.8 180.2 468.2 182.8 474.4 152.1 462.7 190.5 569.2 78.0 544.4 111.2 494.6 157.2 545.0 124.0 510.8 124.0 520.9 167.4 550.2 113.8 459.7 193.0 572.1 85.6 571.1 140.5 524.6 118.9 472.0 108.6 441.8 193.0 491.8 164.9 575.3 88.2 480.6 185.3 478.1 152.1 504.7 170.0 513.9 144.4 534.8 131.7 474.9 141.9 466.8 162.3 462.3 200.7 513.1 154.7 505.5 126.5 464.0 193.0 523.4 147.0 483.8 191.3 520.1 85.6 489.3 144.4 493.5 136.8 529.5 129.1 451.4 200.7 512.2 113.8 562.6 124.0 527.1 149.5 520.7 162.3 504.4 152.1 579.3 88.2 573.4 88.2 500.7 111.2 506.3 180.2 473.2 149.5 505.9 98.7 547.1 139.3 456.4 148.8 532.5 98.4 527.7 180.4 523.5 126.5 572.9 83.1 541.6 136.8 551.6 90.7 502.8 164.9 454.1 170.0 494.5 139.3 507.9 167.4 525.1 152.1 548.6 108.6 513.7 147.0 521.0 154.7 536.3 111.2 478.4 147.0 555.1 118.9 530.0 144.4 505.1 162.3 519.0 147.0 501.7 141.9 454.4 159.8 482.4 185.3 465.3 162.3 568.4 105.2 486.2 126.5 538.8 116.3 517.6 147.0 537.6 106.1 482.6 134.2 507.5 134.2 488.7 152.1 570.2 80.5 484.7 172.6 534.8 118.9 466.7 152.1 487.0 172.6 477.6 149.5 565.5 121.4 499.3 126.5 526.6 154.7 523.2 118.9 568.2 72.8 503.0 167.4 538.3 83.1 446.5 193.0 489.1 139.3 560.9 88.2 503.0 154.7 546.6 131.7 493.3 154.7 557.4 62.7 529.4 175.1 595.0 82.7 541.8 134.2 477.9 126.5 439.2 187.9 478.0 167.4 476.3 103.5 448.4 187.9 492.9 131.7 470.9 159.8 497.1 172.6 524.5 129.1 538.5 111.2 444.1 185.3 505.4 167.4 518.4 154.7 499.2 157.2 443.1 156.8 458.9 198.1 516.2 129.1 461.4 157.2 512.5 111.2 569.6 83.1 574.2 80.5 495.9 170.0 500.9 126.5 509.0 93.3 413.0 217.9 468.6 159.8 490.0 121.4 458.4 172.6 476.8 159.8 527.7 95.9 524.5 81.0 503.3 98.1 512.8 121.4 450.7 185.3 505.6 131.7 517.5 126.5 470.8 157.2 511.0 167.4 554.3 90.7 506.9 129.1 478.1 136.8 569.5 129.1 576.6 93.3 579.1 83.1 502.4 152.1 512.7 147.0 486.2 129.1 461.4 193.0 535.0 113.8 459.5 190.5 464.2 147.0 527.7 149.5 516.5 164.9 509.1 80.5 500.1 134.2 472.0 205.8 432.8 171.2 469.9 190.5 461.8 149.5 545.8 80.5 464.7 185.3 545.1 126.5 443.6 128.4 516.9 124.0 524.9 144.4 485.3 101.0 481.7 80.4 489.8 126.5 527.6 88.2 602.0 54.4 450.2 180.2 475.0 109.6 526.0 152.1 525.3 111.2 555.2 113.8 541.0 80.5 444.9 190.5 504.9 103.5 498.7 154.7 466.6 149.5 514.8 124.0 552.6 118.9 539.1 144.4 535.8 121.4 531.8 141.9 499.1 152.1 474.3 180.2 443.4 205.8 572.3 71.9 477.7 187.9 513.5 101.0 456.4 205.7 483.6 144.4 514.5 108.6 523.8 106.1 532.1 144.4 529.1 98.4 477.5 164.9 535.5 80.5 446.0 205.8 511.4 106.1 442.0 203.2 440.5 195.6 545.3 101.0 453.0 141.9 463.4 198.1 476.7 80.4 505.9 108.6 506.9 121.4 481.3 134.2 478.8 116.3 507.3 154.7 465.3 190.5 512.0 118.9 458.3 190.5 495.5 93.3 517.2 95.9 440.5 203.2 541.2 95.9 563.2 90.7 543.9 90.7 504.1 159.8 533.0 167.4 475.9 167.4 529.7 118.9 484.0 175.1 485.0 136.8 496.7 134.2 536.8 141.9 490.8 147.0 480.1 164.9 579.5 129.1 508.8 167.4 525.0 163.9 481.1 195.6 467.9 185.3 563.8 93.3 498.0 205.8 535.9 118.9 512.0 126.5 531.0 101.0 411.2 227.6 534.2 83.1 470.1 167.4 514.0 141.9 548.2 116.3 515.3 152.1 464.0 195.6 528.1 136.8 474.8 134.2 534.4 93.3 450.4 172.6 526.8 111.2 523.9 108.6 561.3 113.2 504.3 147.0 492.4 177.7 547.3 118.9 471.7 131.7 471.8 149.5 513.8 185.3 499.6 129.1 561.1 80.5 515.5 162.3 482.0 141.9 566.5 88.2 533.5 113.8 492.9 113.8 477.2 182.8 575.3 111.2 454.9 187.9 518.6 129.1 535.0 111.2 456.1 185.3 483.8 118.9 485.6 162.3 469.9 200.7 479.5 113.8 519.2 205.8 463.0 159.8 492.8 167.4 491.6 124.0 536.4 118.9 453.8 185.3 488.6 136.8 513.4 139.3 533.2 116.3 489.1 180.2 451.1 180.2 464.1 203.2 450.4 198.1 484.4 126.5 496.6 121.4 529.3 111.2 509.4 152.1 502.0 147.0 463.2 157.2 522.5 147.0 509.5 67.2 547.1 75.4 523.1 90.7 483.9 152.1 462.1 203.2 547.9 95.9 564.6 101.0 432.8 189.4 538.3 134.2 587.9 77.8 470.4 129.1 469.4 205.8 499.5 167.4 472.2 175.1 516.1 111.2 530.2 124.0 493.5 157.2 465.3 195.6 527.6 83.1 536.5 136.8 464.5 175.1 458.1 157.2 564.5 152.0 472.2 116.3 503.7 111.2 453.8 175.1 481.9 108.6 476.0 175.1 525.1 121.4 486.4 167.4 490.0 82.7 475.7 164.9 487.5 187.9 446.8 195.6 532.7 172.4 495.9 180.2 567.7 83.1 531.9 118.9 522.5 85.6 448.6 205.8 466.3 159.8 454.2 167.4 555.4 106.1 536.6 85.6 498.8 157.2 562.2 108.6 462.2 144.4 470.7 93.3 549.3 80.5 528.1 75.1 460.5 144.4 487.6 172.6 492.8 139.3 541.5 126.5 475.3 159.8 495.8 129.1 519.0 152.1 497.4 126.5 586.1 98.4 550.4 85.6 443.3 198.1 525.4 136.8 510.1 136.8 495.2 134.2 547.6 136.8 504.1 172.6 476.1 121.4 528.3 121.4 460.2 195.6 452.8 151.5 532.4 152.1 558.2 116.3 536.5 83.1 487.1 177.7 446.6 140.9 525.5 162.3 467.6 159.8 463.5 210.8 527.2 139.3 441.2 185.3 520.0 149.5 499.2 101.0 541.3 83.1 555.2 126.5 490.2 177.7 478.5 147.0 497.4 185.3 498.1 180.2 472.2 162.3 566.7 85.6 540.9 116.3 465.4 111.2 456.8 175.1 539.2 157.2 521.3 129.1 525.7 129.1 554.0 124.0 537.2 93.3 517.3 90.7 476.0 147.0 524.1 131.7 520.0 149.5 526.7 126.5 479.8 177.7 514.1 134.2 481.2 102.2 501.6 103.5 530.9 144.4 486.8 144.4 587.9 88.4 523.7 157.2 535.0 129.1 451.4 203.2 516.5 159.8 515.4 159.8 479.4 144.4 467.3 170.0 525.1 116.3 461.1 185.3 485.5 134.2 536.5 180.4 527.2 124.0 507.3 118.9 460.1 182.8 456.1 198.1 542.2 98.4 483.7 177.7 530.6 111.2 464.2 200.7 489.9 141.9 470.4 154.7 462.5 177.7 448.4 180.2 498.8 116.3 511.0 141.9 559.0 113.8 518.9 170.0 444.2 190.5 539.7 149.5 490.0 102.6 550.7 149.2 555.0 129.1 489.3 190.5 449.9 193.0 539.4 147.0 464.2 170.0 527.8 126.5 564.5 85.6 496.1 144.4 460.6 198.1 462.1 147.0 469.6 170.0 489.2 159.8 504.5 157.2 548.1 103.5 529.9 141.9 503.3 185.1 497.6 149.5 521.0 157.2 495.8 118.9 568.9 95.9 549.7 111.2 569.1 116.3 558.3 118.9 472.1 113.8 496.1 106.1 472.9 121.4 533.8 141.9 519.4 154.7 487.0 124.0 509.5 124.0 512.9 164.9 510.3 172.6 487.0 103.5 519.6 95.9 511.5 108.6 460.4 180.2 513.7 118.9 455.5 210.4 520.0 131.7 512.5 141.9 489.1 113.8 472.0 124.0 513.7 116.3 457.6 82.4 513.7 131.7 546.4 85.6 471.9 139.3 436.3 203.2 447.5 170.0 508.2 98.4 538.6 131.7 500.8 172.6 574.6 95.9 525.9 126.5 470.4 136.8 495.1 167.4 505.0 121.4 464.9 157.2 457.9 185.3 547.9 93.3 512.1 131.7 542.1 78.0 505.6 147.0 582.2 80.4 565.8 103.5 469.4 134.2 518.1 131.7 485.2 131.7 497.8 182.8 507.8 162.3 462.7 177.7 463.6 195.6 549.8 67.5 484.9 175.1 507.0 124.0 438.4 203.2 466.2 134.2 470.5 134.2 490.9 159.8 473.2 152.1 560.1 167.4 481.2 129.1 569.6 103.5 565.9 106.1 478.3 185.3 463.4 180.2 514.4 149.5 486.8 167.4 498.5 118.9 477.4 141.9 485.3 159.8 484.7 170.0 514.7 93.3 516.2 190.4 488.0 144.4 510.1 116.3 528.7 129.1 492.0 141.9 484.0 170.0 440.0 200.7 466.1 139.3 523.9 111.2 510.4 170.0 469.5 180.2 433.1 168.6 488.6 121.4 537.2 139.3 533.1 121.4 504.7 129.1 461.3 182.8 483.9 157.2 523.2 116.3 482.0 193.1 449.7 203.2 528.2 157.2 542.4 124.0 499.6 177.7 453.1 190.5 447.2 180.2 548.6 149.2 508.4 121.4 502.6 131.7 471.4 162.3 530.3 134.2 495.0 124.0 441.2 177.7 484.8 167.4 470.8 152.1 476.0 136.8 509.4 144.4 524.0 98.4 520.4 152.1 490.9 124.0 478.6 182.8 521.3 124.0 467.8 198.1 494.2 134.2 527.5 116.3 451.0 193.0 472.3 167.4 583.2 93.3 450.1 170.0 453.3 162.3 481.7 154.7 478.8 175.1 468.9 164.9 454.3 198.1 474.7 131.7 577.2 78.0 470.0 162.3 529.3 134.2 518.8 124.0 540.1 129.1 491.6 111.2 471.6 195.6 491.8 190.4 481.3 159.8 514.3 180.2 454.6 190.5 492.7 95.5 539.8 118.9 512.6 136.8 449.0 175.1 536.9 98.4 510.6 129.1 477.1 113.8 513.2 113.8 497.1 113.8 520.0 139.3 529.7 101.0 533.3 136.8 545.4 121.4 539.7 126.5 506.2 101.0 407.7 227.6 504.3 124.0 438.7 213.5 522.1 113.8 542.5 85.6 473.7 185.3 504.3 139.3 537.2 121.4 473.4 136.8 555.9 95.9 486.9 193.0 557.3 72.8 543.9 111.2 548.9 118.9 499.8 141.9 544.7 116.3 456.0 134.2 528.7 152.1 529.4 152.1 477.6 172.6 500.9 129.1 521.0 101.0 451.4 128.4 571.6 65.0 440.2 185.3 591.1 98.1 511.0 90.7 433.4 186.8 520.0 113.8 576.0 72.8 486.5 134.2 518.0 180.4 466.3 167.4 485.2 147.0 545.4 111.2 497.5 164.9 530.6 129.1 501.0 177.7 458.8 182.8 562.2 116.3 464.0 152.1 552.5 121.4 457.1 198.1 480.7 167.4 519.6 80.5 496.4 162.3 552.5 141.8 516.1 116.3 510.2 131.7 482.0 126.5 587.9 64.5 462.0 164.9 544.9 93.3 459.3 175.1 467.6 154.7 539.0 108.6 536.9 103.5 459.3 177.7 538.4 129.1 447.8 177.7 520.4 147.0 539.4 141.9 564.8 70.3 496.2 131.7 527.8 121.4 509.3 129.1 463.5 134.2 465.5 193.0 515.2 121.4 471.1 175.1 538.2 116.3 418.3 213.5 516.6 144.4 488.3 164.9 527.5 159.8 482.7 136.8 477.8 134.2 536.7 129.1 538.8 85.6 503.9 134.2 450.0 190.5 506.0 129.1 461.6 170.0 512.5 170.0 430.7 162.1 497.3 144.4 473.3 134.2 475.5 185.3 495.0 131.7 490.9 99.0 464.4 164.9 533.2 139.3 519.1 159.8 484.2 164.9 499.8 172.6 500.6 149.5 479.6 185.3 480.4 139.3 508.2 180.2 500.6 141.9 528.4 108.6 493.0 180.2 552.4 101.0 486.0 139.3 510.0 103.5 593.2 60.1 482.9 164.9 482.9 172.6 485.7 164.9 486.5 205.5 512.7 144.4 493.7 170.0 495.7 157.2 582.0 70.3 466.4 154.7 575.5 100.8 513.3 152.1 536.7 101.0 509.0 108.6 493.9 118.9 465.7 101.0 520.5 141.9 499.3 149.5 461.6 172.6 540.3 101.0 546.6 90.7 448.8 195.6 518.9 113.8 433.2 181.6 474.5 182.8 567.1 80.5 484.3 131.7 526.1 144.4 551.0 95.9 491.5 118.9 457.0 185.3 459.0 205.9 493.2 124.0 530.4 116.3 484.7 98.1 520.9 113.8 473.7 129.1 457.2 182.8 463.5 182.8 531.6 106.1 483.3 167.4 498.4 126.5 490.9 154.7 500.8 131.7 569.1 118.9 489.9 139.3 497.5 118.9 538.2 141.9 479.2 190.5 513.7 80.5 513.5 124.0 459.3 167.4 482.4 162.3 509.8 108.6 432.9 203.2 513.8 167.4 482.4 111.2 538.7 118.9 583.7 88.2 542.6 139.3 501.6 121.4 470.2 152.1 542.9 141.9 498.0 172.6 548.5 139.3 509.0 124.0 499.4 147.0 542.9 72.8 537.4 108.6 497.4 159.8 478.4 177.7 506.7 126.5 522.5 139.3 435.1 198.1 531.5 149.5 448.2 154.7 432.6 202.4 483.8 195.6 531.2 82.7 569.3 93.3 490.2 129.1 516.6 106.1 486.0 152.1 476.5 131.7 428.1 216.1 466.1 147.0 534.7 144.4 496.4 147.0 563.1 103.5 495.3 76.4 551.1 72.8 474.5 185.3 524.4 147.0 511.5 129.1 453.4 164.9 484.0 139.3 464.8 177.7 507.5 113.8 494.7 149.5 481.4 124.0 462.9 187.9 493.8 154.7 478.5 108.8 472.2 157.2 515.6 144.4 465.4 182.8 553.8 85.6 491.2 175.1 469.7 193.0 466.8 180.2 500.9 124.0 519.4 141.9 458.1 159.8 518.5 77.8 477.8 139.3 498.4 141.9 434.8 205.8 530.9 159.8 472.7 129.1 569.3 109.3 479.4 170.0 558.1 90.7 507.4 141.9 466.1 108.2 522.3 180.2 454.7 180.2 503.3 116.3 516.5 134.2 488.1 129.1 462.5 141.9 548.9 88.2 541.7 152.1 500.8 85.6 532.1 136.8 512.8 108.6 571.2 93.3 533.8 129.1 520.8 139.3 525.5 157.2 523.3 95.9 491.6 170.0 530.4 85.2 517.2 141.9 481.5 131.7 529.7 154.7 502.6 87.7 488.0 170.0 476.6 180.2 474.8 149.5 433.4 155.0 549.5 106.1 525.2 93.3 478.2 131.7 520.5 124.0 541.7 93.3 571.9 103.5 500.7 144.4 567.7 90.7 465.6 141.9 464.1 139.3 537.6 154.7 487.0 113.8 501.5 157.2 580.4 95.5 488.1 167.4 508.9 157.2 464.4 187.9 504.2 118.9 485.6 197.5 556.2 103.5 480.3 162.3 456.7 193.0 487.0 136.8 445.4 175.1 522.4 129.1 473.5 180.2 515.3 141.9 538.2 121.4 559.7 129.1 444.7 180.2 472.6 124.0 516.1 108.6 492.8 159.8 495.1 103.5 470.8 154.7 551.2 78.0 536.9 164.9 522.0 126.5 497.2 157.2 495.5 124.0 522.5 101.0 454.0 198.1 484.2 162.3 466.9 203.2 520.6 83.1 530.3 113.8 508.1 147.0 546.0 124.0 507.9 124.0 466.4 157.2 527.6 101.0 478.5 205.5 500.1 157.2 446.6 152.4 492.1 103.5 523.2 144.4 565.8 125.6 502.1 134.2 546.8 116.3 497.3 170.0 501.6 136.8 554.9 101.0 484.2 124.0 472.0 159.8 553.4 88.2 497.0 167.4 499.7 154.7 507.9 136.8 496.2 116.3 468.7 147.0 444.8 195.6 461.6 162.3 502.2 129.1 477.6 98.1 510.0 103.5 480.0 141.9 512.2 172.6 466.8 205.8 525.6 103.5 494.4 162.3 444.9 170.0 525.4 95.9 510.0 164.9 513.5 111.2 499.9 175.1 502.0 134.2 539.8 124.0 526.1 113.8 472.7 159.8 491.3 134.2 545.3 118.9 534.3 126.5 486.1 141.9 571.1 139.4 536.3 152.1 463.2 154.7 492.0 175.1 456.5 182.8 527.8 134.2 557.4 125.6 460.8 177.7 474.2 144.4 531.3 126.5 437.2 200.7 466.3 172.6 491.2 141.9 450.6 198.1 490.7 147.0 442.8 187.9 473.2 164.9 469.0 167.4 509.5 126.5 533.0 101.0 500.8 118.9 571.1 123.8 556.9 154.5 508.8 113.8 559.7 83.1 457.8 226.7 580.8 90.2 511.0 152.1 455.2 172.6 515.6 157.2 525.6 108.6 497.1 193.1 548.6 134.2 477.1 139.3 433.2 194.6 538.9 90.7 506.1 141.9 500.6 162.3 465.1 126.5 474.0 149.5 480.0 193.0 454.7 193.0 556.6 129.1 502.4 92.8 459.6 185.3 487.6 131.7 463.3 149.5 482.1 170.0 438.2 205.8 518.4 93.3 533.9 90.7 521.6 108.6 496.6 159.8 521.8 144.4 471.2 170.0 582.2 54.4 511.9 162.3 503.9 113.8 462.6 185.3 488.1 162.3 473.1 195.6 518.0 144.4 519.7 144.4 490.6 162.3 446.2 167.4 568.4 112.3 520.3 121.4 502.2 116.3 526.9 90.7 481.0 136.8 466.0 129.1 531.9 108.6 487.7 175.1 585.8 72.5 504.0 95.9 466.7 175.1 537.5 129.1 469.0 152.1 594.6 65.8 515.5 170.0 575.8 57.4 500.0 152.1 433.3 173.8 529.5 149.5 436.9 154.2 539.1 129.1 478.1 154.7 473.8 193.0 470.1 139.3 399.7 231.2 456.6 200.7 460.4 139.3 476.7 75.3 520.7 164.9 484.1 187.9 460.5 175.1 502.2 172.6 475.7 195.6 490.9 164.9 471.8 164.9 493.6 129.1 525.8 101.0 506.6 154.7 496.0 124.0 506.2 113.8 504.7 141.9 524.8 147.0 485.8 116.3 475.1 157.2 472.4 182.8 489.1 196.6 499.4 111.2 442.8 195.6 453.9 195.6 461.0 175.1 536.5 183.4 483.6 149.5 535.0 106.1 454.4 203.2 463.9 149.5 554.5 106.1 479.5 131.7 475.9 182.8 489.7 154.7 463.9 182.8 463.9 144.4 540.5 113.8 461.4 167.4 518.7 175.1 557.9 129.1 529.5 121.4 591.1 60.1 539.8 134.2 546.4 108.6 497.6 121.4 496.4 177.7 492.4 172.6 499.5 108.6 493.6 170.0 517.7 164.9 500.8 141.9 517.6 159.8 549.1 113.8 481.7 144.4 455.1 170.0 565.9 93.3 476.6 139.3 527.8 113.8 483.1 175.1 517.1 131.7 466.6 195.6 564.0 114.6 509.1 131.7 470.5 177.7 460.0 198.1 588.4 70.3 508.1 131.7 457.8 205.8 491.0 134.2 470.1 159.8 496.1 111.2 475.0 162.3 506.5 170.0 518.3 101.0 473.4 187.9 532.7 80.1 494.4 195.6 496.8 136.8 486.1 190.5 457.7 200.7 514.5 111.2 512.3 167.4 513.0 134.2 565.1 90.7 568.1 60.1 523.0 111.2 514.1 159.8 489.3 118.9 521.2 116.3 459.7 180.2 573.4 118.5 524.0 139.3 460.4 111.1 546.2 103.5 475.9 144.4 557.9 98.4 484.5 154.7 526.4 170.0 525.7 149.5 564.4 106.1 502.3 180.2 458.6 193.0 491.3 147.0 460.9 198.1 489.2 144.4 505.5 111.2 559.1 103.5 548.3 113.8 537.8 147.0 502.4 147.0 498.1 162.3 485.4 185.3 484.9 144.4 515.5 139.3 504.7 164.9 535.0 147.0 536.8 134.2 468.2 172.6 466.0 198.1 525.4 113.8 485.3 180.2 483.7 182.8 505.1 149.5 559.7 124.0 445.8 213.5 550.5 126.5 451.0 154.7 433.3 176.4 462.6 193.0 527.5 164.9 510.2 162.3 513.4 175.1 500.8 159.8 496.2 149.5 500.6 170.0 465.1 167.4 511.2 139.3 409.5 231.2 514.5 164.9 492.1 149.5 435.4 195.6 523.5 141.9 460.4 131.7 480.6 90.5 479.3 152.1 406.3 221.1 526.9 108.6 516.7 136.8 532.4 141.9 542.2 162.1 485.4 172.6 545.0 136.8 504.1 141.9 512.9 126.5 557.7 113.8 575.8 62.4 564.6 129.1 561.0 133.5 482.0 147.0 514.8 101.0 490.1 126.5 541.7 111.2 561.3 121.2 507.2 111.2 494.6 185.3 494.8 121.4 481.4 164.9 497.2 152.1 505.0 92.8 540.7 108.6 483.4 129.1 514.3 113.8 551.2 158.2 472.0 136.8 493.4 134.2 447.1 187.9 541.5 131.7 527.6 106.1 527.3 134.2 484.4 157.2 507.5 152.1 555.9 85.6 511.9 134.2 518.7 106.1 506.4 118.9 521.0 152.1 473.5 139.3 460.3 136.8 542.3 124.0 528.9 90.7 496.6 139.3 538.7 162.3 443.1 154.2 517.3 139.3 544.0 134.2 531.9 136.8 561.2 93.3 502.8 175.1 473.3 131.7 519.6 129.1 518.2 134.2 517.5 167.4 548.7 121.4 494.3 141.9 545.3 98.4 475.4 180.2 464.3 59.7 493.3 147.0 554.4 121.4 523.9 167.4 483.0 180.2 550.8 116.3 507.4 159.8 505.3 106.1 577.9 85.6 441.4 180.2 515.9 131.7 525.8 139.3 526.3 116.3 516.6 164.9 503.2 157.2 514.3 95.9 516.9 154.7 535.4 141.9 506.7 139.3 491.1 177.7 475.1 172.6 530.9 139.3 497.0 187.9 520.4 111.2 464.2 205.7 462.6 102.2 483.2 175.1 470.2 154.7 474.6 170.0 582.2 64.5 527.8 131.7 600.6 62.4 504.6 139.3 507.1 144.4 478.2 121.4 511.7 131.7 434.5 203.2 555.8 111.2 499.3 162.3 542.9 106.1 473.1 170.0 574.6 70.3 493.4 152.1 468.3 190.5 516.9 131.7 509.0 136.8 472.9 162.3 534.1 108.6 515.1 106.1 517.4 162.3 455.8 190.5 560.4 90.7 553.1 83.1 474.6 116.3 519.6 126.5 468.9 175.1 516.6 170.0 502.5 126.5 503.0 152.1 536.3 101.0 494.2 147.0 498.8 177.7 537.1 95.9 457.7 180.2 540.8 106.1 479.9 195.6 522.8 144.4 519.2 111.2 554.3 98.4 459.0 77.8 464.0 116.3 552.8 129.1 545.9 113.8 517.9 141.9 575.1 98.4 489.5 106.1 481.7 157.2 482.0 205.5 489.2 124.0 473.4 198.1 538.7 139.3 544.3 106.1 521.1 106.1 524.6 113.8 578.1 121.2 452.3 200.7 474.1 167.4 444.8 203.2 554.1 93.3 506.5 124.0 479.8 164.9 463.8 172.6 539.1 103.5 516.0 147.0 460.2 182.8 553.4 116.3 465.6 164.9 518.6 126.5 486.4 139.3 463.6 167.4 500.4 177.7 463.1 139.3 553.4 72.1 511.0 147.0 453.8 205.6 476.3 187.9 512.2 159.8 508.5 106.1 505.9 124.0 481.0 180.2 466.5 185.3 482.5 198.1 478.1 200.7 460.5 141.9 541.2 101.0 461.4 152.1 491.2 149.5 469.1 182.8 479.4 144.4 501.7 124.0 533.6 111.2 493.4 187.9 489.3 198.1 506.0 144.4 474.7 177.7 491.5 152.1 522.7 164.9 464.9 121.4 506.7 116.3 473.2 98.4 503.8 175.1 506.4 187.9 518.2 106.1 515.6 167.4 488.6 90.5 464.8 154.7 465.6 190.5 589.6 67.5"/>
<line class="ax" x1="369.4" y1="3.4" x2="369.4" y2="259.9"/>
<line class="ax" x1="369.4" y1="259.4" x2="673.0" y2="259.4"/>
<text class="t" x="369.1" y="274.1" text-anchor="middle" letter-spacing="0.0">8</text>
<text class="t" x="430.2" y="274.1" text-anchor="middle" letter-spacing="0.6">10</text>
<text class="t" x="491.0" y="274.1" text-anchor="middle" letter-spacing="0.6">12</text>
<text class="t" x="551.7" y="274.1" text-anchor="middle" letter-spacing="0.6">14</text>
<text class="t" x="612.5" y="274.1" text-anchor="middle" letter-spacing="0.6">16</text>
<text class="t" x="673.3" y="274.1" text-anchor="middle" letter-spacing="0.6">18</text>
<text class="t" x="361.9" y="262.9" text-anchor="end" letter-spacing="0.0">8</text>
<text class="t" x="362.5" y="211.8" text-anchor="end" letter-spacing="0.6">10</text>
<text class="t" x="362.5" y="160.7" text-anchor="end" letter-spacing="0.6">12</text>
<text class="t" x="362.5" y="109.5" text-anchor="end" letter-spacing="0.6">14</text>
<text class="t" x="362.5" y="58.4" text-anchor="end" letter-spacing="0.6">16</text>
<text class="t" x="362.5" y="7.2" text-anchor="end" letter-spacing="0.6">18</text>
<text class="l" x="521.0" y="285.8" text-anchor="middle" textLength="43.4" lengthAdjust="spacingAndGlyphs">Predicted</text>
<text class="l" transform="translate(346.8 132.4) rotate(-90)" text-anchor="middle" textLength="46.3" lengthAdjust="spacingAndGlyphs">Measured</text>
<text class="p" x="535.9" y="339.8" text-anchor="middle" letter-spacing="2.8">(B)</text>
<path class="pts" d="M201.9 570.2 220.7 539.1 221.0 586.3 120.5 628.8 251.9 474.9 182.0 538.1 135.2 597.4 292.1 521.7 284.9 517.1 180.0 543.4 249.1 556.8 70.3 661.0 256.9 465.1 36.4 681.3 193.8 529.2 88.3 649.2 238.9 501.5 103.1 623.5 164.5 595.4 262.0 481.2 147.3 533.0 137.9 601.3 242.4 530.5 177.7 617.9 199.8 586.4 128.1 568.0 151.7 563.0 279.2 458.7 251.4 603.4 149.4 578.0 175.2 568.0 121.3 603.3 256.9 473.9 204.7 550.1 146.2 593.7 155.8 541.8 194.9 508.0 303.6 469.2 201.2 550.3 232.0 515.2 83.2 625.6 216.0 562.5 303.0 473.9 201.0 557.0 130.5 525.1 222.3 542.2 148.0 584.3 177.6 551.4 255.6 522.5 227.7 509.5 151.6 578.7 151.8 632.4 164.4 606.6 262.9 475.0 235.9 567.9 203.8 560.5 205.1 535.8 202.5 525.8 58.2 658.9 122.3 526.3 201.7 534.3 301.1 519.4 117.7 597.7 293.4 504.8 171.2 552.8 205.0 614.3 217.9 539.5 246.0 521.4 153.6 543.7 171.8 525.5 76.5 639.4 105.8 624.7 209.4 544.3 228.5 484.7 234.7 467.7 191.6 658.9 147.7 578.0 267.3 499.5 150.6 594.2 257.0 486.7 187.1 529.3 114.0 633.5 236.7 465.8 202.5 563.2 166.5 581.5 164.3 528.6 233.0 615.3 195.9 606.9 156.0 567.4 59.4 671.7 179.3 602.8 203.5 474.9 175.5 547.6 234.7 516.6 250.7 505.7 256.6 516.7 186.6 525.6 170.7 580.0 148.6 468.0 219.5 518.5 248.5 495.4 148.2 515.4 187.6 535.6 249.3 478.5 267.2 485.5 269.6 464.0 178.7 538.4 247.3 561.8 137.6 492.8 263.1 472.8 266.4 469.8 242.6 551.8 231.6 499.5 133.5 608.8 170.8 571.3 296.2 458.7 161.6 583.0 72.4 638.6 212.8 586.4 141.8 611.7 45.2 681.3 79.5 578.9 285.3 585.8 230.5 515.7 167.6 545.1 121.7 614.1 104.4 548.8 205.6 505.0 200.6 590.0 251.9 496.8 229.9 554.1 286.3 480.9 153.1 535.9 198.6 504.8 164.6 545.1 172.1 572.6 127.4 551.5 210.9 538.1 228.3 527.4 209.3 503.8 214.2 486.1 228.9 525.1 196.7 499.6 226.0 586.1 167.0 537.9 118.2 607.6 224.8 525.9 148.4 561.6 224.9 535.8 234.2 499.8 61.8 671.7 43.2 668.4 174.8 609.4 166.5 608.2 73.0 670.1 148.9 581.3 288.8 499.3 178.9 479.8 197.2 462.5 302.9 457.7 173.8 582.3 221.8 497.8 269.0 458.9 291.3 501.4 181.3 520.2 125.2 604.4 115.2 618.2 224.0 464.2 260.8 484.9 95.4 641.8 136.4 594.7 173.5 578.5 207.8 478.5 261.9 529.6 122.3 609.4 257.9 494.0 108.7 621.2 200.7 577.3 150.0 617.9 187.8 563.8 264.0 524.8 188.1 548.0 179.6 595.3 185.7 509.7 124.3 600.6 175.4 611.1 195.0 533.7 286.5 474.5 179.0 586.2 222.0 458.7 231.1 511.5 50.2 643.3 205.7 523.7 288.2 463.0 103.1 628.2 262.5 567.0 213.4 472.2 147.4 481.8 262.0 509.3 128.3 600.5 147.1 625.9 111.1 611.7 264.8 501.0 229.8 499.1 220.3 531.7 105.2 627.6 236.3 534.2 261.0 586.2 147.6 560.3 117.6 656.6 190.1 550.8 207.6 586.1 121.7 607.9 266.3 517.1 149.5 560.1 153.6 607.6 131.1 645.9 293.5 500.1 237.4 502.3 109.9 599.6 205.1 507.3 188.6 568.6 270.8 478.4 196.8 559.0 191.1 505.1 161.3 570.1 244.1 525.1 215.0 545.3 108.1 612.3 222.7 608.2 233.0 520.5 78.3 608.8 121.0 561.0 260.9 596.0 224.6 539.4 213.1 532.2 280.7 508.7 144.4 595.2 79.5 644.5 197.9 477.3 286.3 466.6 182.3 552.4 223.2 507.3 182.5 525.5 140.8 600.1 218.8 531.0 158.6 570.5 219.2 553.0 170.7 563.2 179.2 551.5 93.3 600.2 203.4 557.6 135.0 604.1 168.8 583.8 131.2 597.2 215.9 557.0 195.9 596.8 206.8 499.7 195.8 576.5 236.8 492.9 216.0 458.8 221.2 553.5 277.8 496.1 238.0 524.8 73.0 655.1 164.2 582.1 256.8 508.7 146.0 590.5 213.6 501.6 130.8 577.4 230.3 556.8 161.9 539.7 223.5 503.5 193.1 583.0 191.0 580.1 150.8 568.3 140.5 603.7 207.4 547.0 154.6 557.1 193.2 527.2 207.9 523.6 288.1 476.0 107.8 572.2 260.8 506.9 163.0 620.0 257.9 536.7 182.9 543.0 187.1 635.6 223.1 514.5 263.1 466.8 158.5 679.2 194.6 586.2 193.3 530.8 152.3 564.2 176.2 574.2 145.2 586.4 189.1 524.7 78.9 658.0 255.4 489.5 287.9 514.5 192.0 586.2 275.1 474.0 274.9 514.2 292.5 516.4 152.1 583.2 125.1 554.4 161.8 573.8 171.3 485.3 197.3 534.7 226.9 513.4 269.0 480.0 260.7 489.2 273.2 478.3 222.0 528.2 231.3 480.4 140.4 572.1 246.9 472.7 98.9 627.1 45.8 669.8 195.9 583.7 256.7 482.3 149.1 567.6 163.2 570.7 119.6 512.7 203.8 490.0 160.0 513.7 143.5 617.9 256.8 534.0 187.6 537.8 167.8 567.0 148.2 575.2 283.1 491.9 148.7 550.5 252.5 522.6 286.0 502.9 212.1 554.0 262.0 504.5 181.4 545.6 252.0 492.0 176.5 552.7 294.1 460.9 239.2 478.7 207.1 562.3 119.3 608.8 238.1 531.2 225.0 514.9 150.6 540.2 163.8 583.8 297.1 471.9 177.7 568.0 253.5 512.8 281.1 482.3 273.9 521.0 172.4 558.9 153.2 569.3 217.4 576.8 225.5 468.6 189.4 527.7 142.3 575.7 128.5 598.4 111.1 658.9 233.3 555.9 150.9 538.6 39.9 681.3 283.6 475.7 213.6 580.6 213.7 520.2 248.2 471.4 232.3 526.6 243.1 556.9 139.4 569.6 258.3 491.8 159.0 592.4 166.0 586.3 265.4 515.1 246.0 514.3 189.4 586.2 187.6 574.3 255.8 604.7 224.2 534.4 232.9 516.3 196.9 566.3 240.8 532.1 149.0 564.4 245.0 493.1 126.7 591.2 216.4 510.2 168.9 528.1 231.4 552.9 240.3 517.0 148.4 536.0 164.8 631.2 156.1 563.7 184.6 551.6 207.0 618.8 213.4 507.1 113.8 585.0 124.1 630.0 219.0 533.5 208.1 521.7 278.6 480.5 108.1 627.6 147.1 573.0 168.9 594.2 262.7 522.1 169.0 589.8 204.9 502.4 173.5 575.0 264.5 506.0 134.9 593.9 256.5 546.3 197.9 540.7 127.6 618.2 196.3 579.8 180.5 511.1 143.3 603.4 200.4 533.0 208.5 495.0 156.8 539.1 194.7 547.6 246.5 500.0 188.6 555.9 195.8 545.5 171.6 532.0 270.7 505.4 111.1 627.1 242.2 547.3 173.9 566.4 263.4 489.8 140.4 530.5 248.9 550.8 93.3 605.1 246.8 506.2 125.4 574.3 215.6 551.4 216.8 526.3 292.3 491.7 144.1 649.2 277.2 507.8 250.8 535.2 162.2 566.1 223.2 531.1 280.9 468.5 146.9 596.8 141.2 578.1 108.5 477.7 182.5 617.9 178.4 578.8 244.1 489.6 167.5 546.3 284.1 555.3 280.8 486.7 300.9 470.8 221.8 602.3 210.3 517.6 282.5 462.4 247.1 517.3 124.6 608.2 187.9 513.5 182.5 608.2 272.8 509.8 176.4 578.9 113.5 572.1 255.4 520.1 134.3 564.4 188.7 605.2 129.9 592.5 234.6 493.7 147.7 517.8 236.2 498.2 120.5 547.7 139.3 593.6 218.0 586.1 147.4 556.8 244.8 521.0 200.9 523.2 228.8 536.4 267.0 492.9 199.7 565.3 296.7 476.3 167.1 481.0 140.3 574.6 245.5 527.4 180.5 540.0 240.9 468.9 281.1 459.8 212.1 521.9 194.1 629.4 234.9 520.9 234.1 530.8 134.3 592.2 134.4 587.1 237.6 592.9 175.5 580.2 186.4 595.4 183.1 570.0 297.0 461.7 149.4 623.5 201.8 498.9 200.8 573.4 245.3 463.9 169.5 551.4 273.9 500.5 252.1 515.7 253.7 566.4 196.3 489.7 142.5 573.3 185.2 473.4 212.8 574.5 93.6 627.1 184.4 583.5 167.6 582.8 166.5 531.2 151.8 567.1 140.7 606.6 215.6 527.8 200.6 547.8 289.8 479.4 211.6 543.8 231.7 470.9 230.9 518.0 189.1 531.9 298.1 466.2 208.1 531.9 234.4 517.9 238.1 527.9 252.8 495.6 152.6 533.8 123.3 577.1 241.3 489.5 217.6 472.3 274.7 464.1 239.7 535.7 264.6 589.3 104.0 593.4 219.3 500.7 263.7 494.4 265.9 467.5 198.6 527.6 255.2 503.6 243.7 595.3 245.6 553.5 168.0 605.3 211.5 540.9 161.6 497.5 109.7 557.6 207.2 525.9 129.5 557.6 177.5 543.0 246.8 502.4 157.3 535.1 279.6 471.6 267.7 478.4 158.3 521.9 153.0 649.2 239.1 473.0 156.5 582.7 167.6 563.9 184.4 512.9 276.7 515.2 190.2 477.9 147.9 489.2 189.0 499.0 248.2 498.1 258.5 531.9 135.2 572.3 199.2 541.9 156.5 590.0 196.6 529.4 259.3 520.1 170.7 637.9 152.4 515.4 204.8 528.8 154.6 570.5 150.5 537.1 252.3 467.5 186.0 578.7 289.9 473.2 225.9 555.1 82.4 643.3 289.7 489.1 203.2 577.1 276.0 462.4 130.1 606.3 208.8 519.5 163.4 562.0 168.2 557.7 118.2 617.0 281.8 540.2 199.2 581.5 213.9 533.6 142.4 564.6 89.3 541.4 298.3 529.6 178.4 571.9 148.8 668.6 197.5 523.2 158.5 548.3 250.8 514.7 182.7 576.8 278.9 482.3 153.8 579.7 156.3 561.1 232.0 507.7 292.8 497.4 51.7 675.4 82.4 578.0 219.6 565.7 164.2 618.8 240.1 492.9 269.6 496.6 265.7 508.7 233.4 510.6 178.9 576.8 208.3 489.0 256.5 462.2 269.5 476.8 210.8 483.4 135.9 611.1 201.6 568.3 153.7 599.5 165.7 592.7 212.7 562.0 188.9 544.9 252.0 482.7 238.7 468.7 152.6 577.3 47.4 649.2 94.8 650.7 152.4 617.9 137.7 586.5 96.8 597.6 276.7 486.1 155.0 565.5 148.0 539.9 168.6 586.4 155.0 578.6 282.9 478.0 240.0 458.6 242.1 540.5 47.4 655.6 281.6 503.3 163.2 592.0 278.3 465.4 125.2 610.5 174.8 521.3 287.4 496.9 233.3 501.9 154.1 527.1 200.8 561.0 243.0 497.1 187.3 546.8 191.9 557.2 172.3 595.8 187.8 540.3 156.3 575.3 167.7 548.7 150.6 512.5 178.4 528.5 169.1 550.5 235.7 529.3 156.5 607.6 289.9 510.9 167.7 525.5 268.8 466.2 121.7 621.7 158.9 527.6 125.1 581.7 197.9 536.9 160.6 574.2 56.4 658.9 210.9 573.0 151.7 574.9 235.8 555.9 140.0 586.3 161.2 559.3 170.1 627.6 206.0 572.4 133.4 590.5 150.2 584.8 162.5 560.2 139.1 559.0 155.8 529.4 243.3 568.1 215.6 522.2 223.2 553.4 252.3 469.8 151.8 581.9 276.0 510.8 155.7 555.5 190.8 519.6 232.0 534.2 156.7 592.5 165.3 569.7 274.1 532.3 227.0 507.8 149.0 582.7 163.0 524.3 251.4 488.7 266.8 482.3 206.1 532.1 287.9 474.5 212.7 530.1 282.2 488.5 99.5 611.1 185.5 573.0 152.8 592.7 250.1 473.3 180.1 547.8 157.1 544.0 283.0 510.5 255.6 558.1 150.4 559.2 144.7 515.4 176.0 525.5 254.0 515.9 180.3 554.7 242.3 521.8 271.8 520.9 211.1 490.1 101.3 612.3 150.3 552.5 167.7 510.5 118.7 649.2 293.5 510.8 211.5 582.1 252.3 503.5 261.6 556.6 162.8 535.8 121.9 590.4 128.8 616.4 292.9 508.7 225.6 542.0 208.4 569.6 301.9 508.0 260.9 550.3 127.0 564.2 272.5 502.0 174.8 505.1 162.3 554.8 189.4 589.4 290.3 503.4 82.4 650.7 272.9 479.9 229.0 517.2 251.1 510.7 148.1 546.5 180.7 578.4 167.2 574.1 172.9 589.3 161.1 581.4 267.2 491.5 270.8 466.0 211.8 519.1 267.6 510.5 229.7 529.5 158.4 589.9 272.7 465.7 150.5 570.7 152.4 558.5 170.0 554.0 179.6 533.8 155.2 568.9 161.1 561.7 230.1 563.0 277.1 476.5 203.6 497.1 138.8 563.3 206.7 512.7 240.8 518.6 183.1 482.4 91.8 668.1 189.5 562.8 250.4 507.9 255.0 501.1 122.9 618.8 202.0 493.0 150.6 560.9 271.3 496.9 168.3 468.0 238.3 537.6 280.3 494.8 272.1 489.3 264.5 465.6 114.6 608.2 283.0 465.0 118.2 632.4 246.2 512.0 262.4 477.9 275.0 469.5 298.5 479.9 190.1 483.3 178.0 548.6 240.5 503.0 195.3 645.1 254.3 533.1 186.3 566.1 205.0 586.3 279.4 518.8 246.1 503.6 184.3 534.2 227.2 500.6 208.6 553.4 175.0 588.8 303.2 490.9 160.9 549.2 136.3 534.6 200.7 545.9 250.1 493.2 195.0 573.4 212.6 481.0 233.6 548.8 192.4 534.8 228.1 497.8 153.8 574.5 125.4 594.5 191.7 517.1 190.7 577.7 157.7 620.0 212.7 537.1 261.6 498.2 270.0 511.2 286.5 473.0 63.5 649.7 288.2 457.8 160.6 517.8 109.8 594.9 219.4 526.4 228.1 522.9 288.2 479.0 243.7 532.9 280.3 479.7 156.5 580.1 213.0 496.8 173.1 527.6 152.5 548.4 223.4 565.5 89.7 611.7 245.6 498.0 132.3 491.2 225.7 495.9 183.5 559.3 147.2 583.0 161.6 533.4 218.3 475.6 293.0 483.4 265.4 480.0 165.8 571.8 153.7 561.6 132.6 583.0 277.4 505.6 216.0 603.4 205.6 555.0 155.1 538.9 234.4 542.8 183.8 563.4 145.9 635.1 246.0 468.4 299.6 463.5 141.5 596.0 225.1 550.5 130.1 580.0 180.7 617.9 86.5 645.3 280.0 491.4 231.9 513.6 246.6 535.4 153.0 586.2 171.2 586.0 286.1 511.8 104.3 557.4 256.8 477.1 260.3 503.3 108.7 633.5 235.1 474.8 120.6 554.9 127.6 587.4 233.9 513.5 153.5 553.6 109.3 639.8 215.4 549.0 158.8 531.9 152.4 572.3 153.3 590.1 171.7 550.4 284.0 503.8 194.3 502.2 143.2 559.1 232.1 610.3 158.9 551.8 262.2 458.5 158.3 537.1 265.6 458.6 234.9 490.1 256.0 586.1 181.6 586.3 172.4 485.9 130.5 503.4 291.8 585.8 294.4 463.2 123.7 592.5 177.5 583.5 174.4 534.2 195.1 592.2 97.2 632.0 103.6 563.6 279.9 489.3 185.7 541.0 228.9 531.4 233.2 523.7 290.7 513.6 137.7 584.2 148.7 572.9 195.9 534.3 250.5 527.2 255.4 458.7 104.6 655.4 196.4 550.5 171.3 510.5 202.1 542.0 284.7 491.1 151.0 577.4 153.8 550.3 185.7 536.7 171.1 529.6 202.1 518.9 242.5 544.4 225.6 532.6 149.5 598.2 224.8 492.5 239.7 579.0 210.4 522.8 236.5 457.7 220.3 514.0 231.6 544.0 230.5 522.4 133.7 555.5 179.7 562.2 197.5 566.9 270.5 472.6 98.3 621.2 207.4 520.2 227.4 518.9 285.0 493.1 251.8 493.3 232.9 518.9 143.5 479.8 241.9 481.9 298.4 486.6 240.8 539.7 193.9 515.3 166.5 627.6 269.4 531.7 169.8 566.5 221.4 526.3 133.5 615.0 219.2 543.7 268.5 486.8 273.2 471.6 194.8 553.4 244.4 575.3 302.6 464.0 223.4 545.5 218.5 521.4 108.6 590.1 208.5 507.2 156.9 548.0 292.6 470.2 137.4 588.8 221.3 530.6 164.2 532.3 178.7 530.5 205.3 563.5 285.3 472.1 80.6 607.9 175.3 598.9 250.7 501.4 214.3 510.6 148.3 606.5 259.0 499.4 165.3 602.8 148.0 590.6 196.7 519.2 187.1 559.2 292.1 477.7 200.9 484.0 181.6 573.8 176.3 531.2 173.6 617.4 175.2 562.8 172.6 592.9 205.0 551.8 208.4 517.7 161.7 576.7 276.4 533.5 229.0 545.7 263.1 579.1 252.9 539.0 97.7 629.4 167.6 572.7 132.3 614.7 294.1 585.8 243.2 487.2 198.7 562.6 203.5 592.4 154.7 639.8 265.2 510.6 301.4 485.5 154.7 523.1 290.5 461.8 184.5 577.7 215.0 508.2 181.4 559.0 124.8 567.8 109.7 663.0 111.1 607.6 293.0 486.9 299.6 458.5 51.7 672.5 196.9 561.7 241.1 528.2 183.8 557.5 158.7 602.4 227.4 478.3 225.6 580.8 181.4 571.6 183.0 535.8 173.9 556.5 247.3 572.8 202.4 586.0 253.0 488.9 142.6 586.0 113.4 575.7 203.0 567.1 127.0 559.9 136.5 580.8 212.7 504.2 208.6 528.4 147.6 538.0 280.0 521.8 207.8 535.6 168.0 600.1 228.3 469.2 241.0 586.1 197.5 538.5 153.1 557.1 183.7 527.9 101.9 618.2 169.2 578.3 228.7 505.7 53.3 671.7 157.6 541.3 203.1 515.7 227.0 564.7 253.9 463.1 215.4 586.3 238.6 571.2 184.4 574.8 154.9 536.9 193.2 576.1 257.7 504.2 261.4 465.6 227.8 604.1 237.3 546.3 154.1 548.8 215.6 531.1 171.3 521.9 227.2 533.5 211.1 531.7 225.9 510.7 206.8 528.0 278.6 510.5 184.7 554.5 176.2 537.9 254.4 497.6 175.3 540.8 262.2 544.2 186.2 555.8 209.3 530.0 267.2 524.4 249.0 468.7 151.5 603.7 104.6 616.4 198.9 572.4 168.7 553.6 193.5 564.0 236.8 551.7 236.4 522.6 183.6 522.5 173.9 584.5 221.4 548.4 265.7 503.6 122.3 628.2 149.5 593.0 254.7 524.4 164.5 566.9 248.5 536.7 256.9 489.0 174.7 572.7 199.4 555.9 168.3 518.4 240.8 523.6 163.0 517.2 180.1 567.8 112.0 525.5 199.2 551.4 283.6 469.6 236.3 540.3 278.2 471.0 148.4 595.4 114.7 565.3 91.8 632.4 254.9 488.2 181.5 567.0 216.5 538.2 126.4 584.1 121.5 605.9 209.5 577.9 231.8 532.2 274.1 482.3 164.7 555.0 268.9 500.8 165.3 578.8 252.7 548.5 94.8 635.3 106.9 634.1 156.1 573.7 201.5 530.6 302.4 494.9 97.4 542.3 155.2 584.3 237.8 499.6 224.1 511.8 247.7 539.5 129.8 589.4 228.4 473.8 277.1 482.7 155.0 595.7 87.7 604.3 192.7 537.5 79.2 604.3 276.8 540.0 181.9 541.3 222.9 536.9 229.9 533.6 165.5 538.5 97.4 661.3 109.3 618.2 174.9 538.4 171.7 568.9 191.8 565.9 260.1 480.1 204.9 526.4 261.1 517.0 209.7 565.5 158.3 466.7 246.0 586.0 143.6 590.5 298.1 494.7 231.0 586.3 176.0 590.9 227.2 573.1 185.0 549.3 135.9 662.2 286.0 458.9 207.5 461.9 157.8 584.3 209.8 524.6 232.5 594.6 113.1 597.2 174.9 594.9 256.4 500.7 88.7 668.4 202.7 539.2 203.4 543.5 176.7 546.3 156.9 605.0 215.1 499.2 217.9 546.2 265.8 487.4 139.4 617.9 236.5 515.1 280.7 477.9 233.4 577.3 167.4 585.8 235.8 478.9 153.8 552.0 187.4 487.0 287.9 469.7 209.1 561.9 207.0 596.9 292.7 479.6 269.8 469.8 216.0 543.6 286.5 553.9 275.9 484.0 188.2 492.6 154.5 585.4 128.8 584.3 169.1 592.1 214.1 524.0 178.8 581.6 225.0 499.5 229.9 496.0 201.6 544.5 287.6 521.0 287.5 526.8 225.3 518.4 157.6 557.4 176.6 479.1 174.1 531.8 202.1 555.1 116.1 579.8 218.4 536.2 241.6 475.6 165.4 564.2 291.4 465.1 185.6 545.9 270.9 514.0 254.3 476.8 205.5 518.8 181.9 597.5 209.3 556.8 219.6 521.5 257.6 470.8 218.7 508.6 144.1 607.6 173.0 501.3 150.9 530.1 268.4 474.2 157.2 546.1 125.4 587.3 119.2 582.8 116.9 604.0 224.6 458.2 190.7 543.5 131.1 608.2 99.2 600.2 154.1 509.3 157.1 617.9 165.3 536.1 105.2 621.7 272.2 486.5 301.9 468.2 272.1 476.3 252.2 500.0 244.6 494.9 151.2 523.1 273.3 475.0 181.3 562.2 209.6 596.8 281.5 506.2 182.5 460.9 187.5 517.6 236.3 526.3 233.9 533.1 251.0 544.5 246.0 458.9 230.3 577.0 147.8 579.7 295.9 528.8 156.2 571.5 268.4 504.4 225.7 471.6 291.0 463.5 243.3 517.7 190.0 549.2 180.2 570.7 204.9 538.8 81.6 648.9 138.7 596.7 208.1 580.3 182.5 462.3 306.4 458.6 286.3 487.8 167.0 533.3 238.7 516.5 174.6 570.3 184.2 496.6 150.0 613.5 177.9 606.1 272.6 516.3 278.4 462.1 182.8 503.6 256.3 478.9 106.4 654.8 160.0 562.5 158.7 581.4 48.2 658.9 151.2 525.5 142.6 569.1 252.6 561.0 138.1 577.6 162.7 542.8 175.6 558.7 286.4 490.2 259.5 474.7 151.2 633.5 171.7 567.4 230.1 490.3 115.2 620.0 186.2 569.2 291.0 536.2 45.5 617.6 250.1 520.7 282.3 524.3 275.8 458.6 211.7 567.8 230.7 493.6 250.0 530.2 153.1 545.4 168.6 571.3 277.0 488.6 195.8 564.1 184.9 543.5 101.3 624.7 171.8 581.9 243.5 563.5 205.6 574.8 133.0 559.9 132.1 601.9 96.0 627.6 152.6 573.9 172.2 564.3 257.4 505.9 268.7 484.0 269.4 527.6 200.2 553.2 114.3 537.9 223.5 577.3 212.9 549.8 161.8 552.3 114.8 592.4 157.2 578.2 297.7 489.7 154.1 477.9 259.4 504.8 161.1 579.5 233.6 671.7 255.2 514.0 213.4 545.2 273.1 505.8 249.1 500.4 223.2 620.8 245.2 508.3 230.2 535.5 136.1 568.5 197.6 525.0 215.4 534.3 164.6 575.3 175.9 554.4 271.3 523.9 172.2 560.3 103.6 564.8 169.5 561.6 146.2 588.4 258.8 482.1 150.0 511.3 185.4 529.7 184.0 561.2 222.7 558.8 170.4 546.8 133.4 605.8 159.5 587.5 155.8 558.3 216.8 534.7 140.3 582.2 97.4 544.5 134.3 549.7 266.2 519.5 79.5 654.8 263.9 496.7 175.1 582.3 240.2 599.1 176.0 544.4 256.0 542.6 193.2 549.0 170.9 565.1 130.9 649.5 190.1 565.0 279.0 475.6 179.4 599.1 258.3 514.7 160.1 599.0 131.6 591.2 155.4 551.8 229.2 507.4 162.7 599.1 235.7 582.1 283.7 498.4 255.7 483.9 101.9 614.7 144.1 611.1 49.7 671.7 226.7 538.4 274.1 512.2 103.6 586.0 229.5 520.7 139.7 589.5 221.7 517.6 229.9 509.9 158.3 515.4 278.6 499.0 286.3 500.2 295.7 465.8 203.6 531.2 226.4 549.1 146.5 621.2 278.5 487.8 64.1 668.6 193.5 545.4 187.0 500.5 175.9 557.0 178.3 490.4 208.7 513.6 172.1 557.5 238.6 604.4 200.9 596.0 175.8 534.8 254.9 480.9 265.6 496.8 236.9 518.6 187.3 609.6 182.8 605.9 151.5 544.4 224.8 531.1 258.1 522.3 194.2 566.4 211.9 592.4 287.6 492.8 191.8 497.2 177.7 565.1 238.9 514.9 180.0 592.8 258.8 458.5 112.0 581.3 203.9 581.8 207.2 555.6 193.0 524.9 131.4 570.3 269.9 485.4 184.4 539.0 272.1 551.2 133.8 569.1 184.0 567.2 183.3 531.8 160.7 542.9 190.3 599.4 155.7 559.9 211.3 501.3 220.5 527.7 293.7 481.9 231.1 549.3 110.5 645.9 275.8 496.9 246.9 493.1 259.8 515.4 289.7 526.1 219.3 537.1 265.4 493.7 159.9 575.8 189.0 571.8 232.0 487.6 267.7 502.9 182.8 580.0 293.4 465.9 107.5 607.6 263.7 484.1 190.4 514.3 294.1 478.6 297.7 503.3 227.2 529.9 229.6 542.2 259.2 467.1 93.6 639.4 276.7 467.0 289.4 458.7 266.6 501.6 157.1 517.8 191.7 554.4 148.0 570.4 162.2 593.1 292.3 471.5 264.0 603.1 126.4 643.0 173.2 562.9 284.5 467.5 259.6 484.0 270.3 461.6 274.0 498.1 207.3 530.1 220.3 536.2 46.4 659.5 162.1 556.1 272.8 490.8 163.5 590.1 237.2 562.4 130.0 627.1 149.2 548.2 258.0 566.4 153.7 583.8 191.5 545.8 255.9 497.9 149.3 554.4 186.2 562.0 284.3 460.1 180.2 564.5 177.2 511.9 252.7 542.5 302.7 466.2 302.2 500.9 263.9 536.0 161.8 628.8 121.2 598.2 252.4 595.0 158.2 586.3 195.7 511.7 117.3 554.0 160.1 572.3 100.7 650.7 190.8 533.5 234.7 484.2 202.4 540.2 266.5 490.2 243.6 514.8 253.5 509.6 136.8 598.8 230.6 460.2 277.5 523.3 189.0 575.0 269.5 468.2 177.9 580.7 187.2 553.3 202.5 505.1 242.1 491.9 277.4 501.3 176.4 586.2 244.8 501.3 166.3 584.3 177.8 561.3 265.4 461.7 190.8 556.2 221.6 520.5 247.9 509.3 216.8 512.1 212.2 558.3 245.5 506.7 196.9 553.0 83.0 634.1 230.8 508.6 203.0 538.5 162.3 558.0 166.8 551.0 245.6 475.0 190.6 583.8 181.4 556.7 159.3 594.7 104.5 578.4 214.8 541.9 160.3 538.5 284.2 466.3 182.4 584.5 270.2 481.8 157.1 627.6 155.9 649.2 248.7 485.7 168.2 556.1 159.7 606.7 264.3 488.1 142.3 592.3 170.4 555.5 147.2 543.0 166.2 575.4 260.8 469.0 104.6 612.3 171.0 542.6 241.3 463.1 138.0 499.9 258.9 496.7 194.3 518.3 178.9 506.6 88.7 617.6 259.8 509.0 122.5 584.8 151.9 541.8 182.6 600.0 238.8 520.9 215.7 593.7 263.3 515.0 182.4 533.9 158.5 564.9 237.4 512.1 218.7 561.4 280.0 505.7 106.4 630.0 234.9 495.7 248.7 506.6 173.8 586.3 242.8 536.9 150.4 586.4 253.4 506.4 236.4 482.5 157.7 567.2 218.2 583.2 134.4 578.8 215.8 540.3 222.0 532.3 206.2 521.4 249.1 511.4 264.1 471.5 147.7 612.9 271.7 531.7 149.1 562.8 118.2 625.9 84.8 644.5 128.6 596.3 160.1 545.0 285.1 473.8 114.6 612.3 152.1 598.3 238.2 557.4 285.6 478.5 215.3 514.5 247.8 519.8 286.2 469.4 178.2 590.6 155.1 532.8 156.0 550.1 144.3 585.6 160.6 523.7 244.9 478.1 256.6 481.0 152.4 565.5 203.2 533.3 174.3 554.9 201.0 579.3 210.2 586.1 156.5 503.4 216.7 565.3 78.3 643.0 254.6 589.4 174.3 602.4 92.4 623.5 158.1 574.1 227.0 481.3 298.7 468.3 212.7 526.1 217.4 503.8 147.7 528.1 263.3 462.7 190.7 595.6 223.3 522.3 264.6 477.4 161.0 567.8 228.6 502.7 167.2 541.8 180.9 584.1 196.8 536.9 111.1 639.8 41.7 681.3 164.0 576.8 242.6 506.4 296.5 576.3 258.3 516.8 215.9 506.7 217.7 523.2 192.7 562.5 252.0 507.0 268.7 494.7 117.0 574.8 89.8 626.5 211.3 546.2 215.5 466.7 75.9 671.7 154.7 617.9 270.1 519.7 171.2 577.7 272.0 484.0 283.3 520.1 213.3 494.4 195.4 617.6 219.1 528.3 288.0 482.7 106.4 559.9 205.0 530.6 238.2 489.4 163.4 586.0 169.3 460.3 289.4 595.2 200.2 496.6 168.9 620.0 288.1 468.1 245.1 549.1 290.1 476.9 195.1 520.7 190.1 547.4 263.6 503.2 239.6 497.5 174.1 549.3 219.5 466.5 125.5 597.1 210.5 611.5 183.1 516.6 220.1 579.7 220.1 481.5 272.4 458.9 206.6 552.1 182.7 594.1 159.2 568.6 245.1 539.6 203.2 573.3 194.3 543.6 170.4 537.3 112.4 553.6 229.2 464.1 213.2 512.9 178.7 550.1 248.5 491.6 248.4 482.6 125.2 637.4 127.6 607.6 250.3 486.4 211.4 535.6 114.4 547.9 197.7 547.5 173.2 552.3 263.7 469.5 158.8 558.8 214.4 550.4 251.8 490.6 210.2 528.5 252.7 517.6 137.0 591.1 170.0 569.1 232.8 559.7 228.0 458.9 199.9 511.6 282.9 479.7 194.6 539.4 221.4 509.0 74.7 653.3 149.5 572.2 241.3 510.8 265.2 528.2 149.4 648.3 119.5 569.5 247.0 606.0 266.7 473.2 174.8 529.3 162.5 584.0 244.8 461.3 234.0 458.7 128.3 581.1 236.4 505.9 94.4 553.9 225.7 528.2 290.9 469.1 185.8 591.3 155.3 627.1 91.3 634.4 186.2 543.0 196.8 517.1 286.7 602.5 275.3 492.0 198.1 578.1 245.5 482.5 116.7 601.5 106.4 617.0 206.3 577.8 210.0 539.8 219.8 503.7 262.5 520.1 151.1 606.5 288.7 518.4 239.9 484.3 197.0 572.9 242.1 523.2 289.6 494.9 229.0 480.8 302.3 482.0 176.5 570.6 221.8 545.3 219.7 550.5 190.8 620.2 237.1 509.2 159.5 629.4 247.8 512.9 223.8 516.7 94.6 617.6 161.1 529.7 290.1 466.7 177.7 514.3 242.3 512.4 236.0 471.9 174.4 559.0 203.5 509.6 74.5 639.1 190.7 529.7 168.5 543.3 113.4 658.9 102.5 587.2 273.8 476.8 105.2 608.2 216.8 516.6 206.6 540.1 111.1 622.3 150.7 574.3 199.7 544.5 265.2 531.7 282.1 513.9 120.2 588.1 198.0 532.4 152.0 588.6 213.9 536.8 190.3 559.8 160.3 566.1 234.0 462.5 100.1 628.8 165.3 543.4 168.7 536.7 249.7 577.4 165.8 561.9 112.3 617.6 162.8 537.8 259.3 525.1 200.3 537.2 248.3 533.8 233.4 505.0 199.3 534.8 189.5 537.8 208.6 541.7 77.7 623.3 174.2 545.7 188.2 542.6 280.4 516.4 152.8 538.7 270.9 470.8 76.2 658.9 247.0 479.7 82.6 597.8 251.0 586.2 146.5 599.7 248.7 475.5 247.9 591.7 235.9 503.4 195.4 530.7 128.8 604.3 168.0 576.1 252.0 520.7 166.4 539.5 226.1 523.0 246.0 523.4 202.6 549.1 249.3 488.8 215.4 519.4 268.8 508.3 157.7 500.7 248.6 515.1 219.9 545.4 160.5 547.2 232.2 573.6 200.3 582.6 178.6 555.7 195.9 557.2 273.5 541.7 152.0 552.6 233.4 545.8 192.8 558.3 184.2 586.2 147.1 563.0 145.5 617.9 205.7 542.5 235.3 508.0 170.6 548.4 181.7 580.7 192.4 551.4 134.4 602.0 208.3 550.6 73.6 644.5 211.1 511.3 38.2 681.3 234.7 506.5 249.9 503.5 155.9 514.8 298.5 474.1 170.5 557.5 156.9 554.6 263.7 560.1 138.5 635.1 192.2 574.8 253.6 580.5 167.4 578.1 65.3 658.9 184.1 547.5 243.5 499.3 174.5 561.6 181.3 532.3 271.4 512.1 296.0 482.5 241.0 495.8 303.0 473.2 252.0 458.8 168.1 560.9 66.5 656.3 147.7 617.9 239.3 487.0 303.0 458.7 102.2 598.4 187.5 521.3 117.7 588.5 176.9 580.6 243.2 507.8 149.6 565.9 226.2 546.4 278.1 491.7 158.8 555.6 277.4 526.8 81.8 653.0 83.6 653.6 149.6 556.9 197.4 569.6 160.8 586.1 237.8 553.6 148.5 603.7 211.9 487.2 278.8 484.2 203.2 520.8 265.4 609.0 175.4 502.2 268.2 540.0 276.9 473.9 226.7 488.1 263.4 512.8 226.4 526.3 179.4 535.8 140.6 538.6 164.8 549.2 130.9 485.9 124.9 590.7 193.4 540.7 205.1 482.2 165.9 532.8 125.8 619.4 181.3 488.3 147.7 558.0 203.0 552.1 274.2 525.7 248.3 524.1 147.1 553.0 184.6 617.6 254.6 494.5 238.4 506.2 293.3 475.1 171.3 617.9 133.8 576.6 230.5 501.5 238.9 494.3 247.2 488.3 264.9 521.5 255.0 469.5 224.6 520.5 66.2 646.2 222.9 526.9 284.7 495.7 121.0 573.6 211.1 534.0 283.1 483.9 224.7 567.1 165.4 552.2 180.7 514.8 295.3 468.3 256.6 493.3 153.2 567.7 168.9 538.9 208.8 537.9 230.2 546.4 61.5 668.4 231.5 475.0 235.1 510.3 216.9 488.8 285.9 486.1 191.2 511.3 223.1 501.6 153.6 572.0 273.3 485.9 259.3 512.7 280.9 475.0 260.0 462.9 193.1 578.4 257.1 499.4 171.6 539.0 244.7 542.2 179.5 524.9 172.9 534.0 208.8 469.9 235.8 502.1 214.7 517.4 180.1 649.2 191.7 470.1 218.4 515.4 178.2 558.1 152.5 560.4 143.6 579.3 115.2 558.2 232.4 536.3 69.2 671.7 268.4 498.4 70.0 639.1 238.4 542.4 147.8 586.3 117.0 611.7 252.3 472.3 257.2 467.0 268.1 490.0 269.4 506.5 158.3 506.0 249.3 617.6 231.1 540.3 226.2 519.6 278.0 468.8 162.6 587.5 104.5 604.2 148.2 649.2 103.1 655.6 159.7 539.7 241.3 514.2 182.4 565.0 272.6 493.1 175.4 617.6 166.8 568.5 226.4 505.0 175.6 565.4 147.6 548.0 206.0 548.6 163.8 541.8 164.8 518.4 257.8 501.7 174.1 543.9 197.2 527.6 274.5 495.0 170.1 520.7 232.8 566.9 189.5 522.3 182.5 500.7 259.3 493.1 241.2 525.7 262.3 532.0 204.6 606.3 155.2 547.1 159.6 578.5 232.1 502.5 169.8 575.2 246.1 490.4 261.2 512.0 195.0 495.2 221.3 573.3 270.3 474.7 255.8 511.3 179.7 583.2 264.8 498.6 228.9 552.3 223.7 525.0 177.7 595.9 269.2 488.1 150.0 468.0 77.1 648.1 189.6 567.1 221.2 555.9 160.2 557.5 207.6 544.4 140.9 547.3 242.4 519.1 247.4 465.1 130.0 630.6 170.2 573.4 283.3 472.5 252.7 529.1 288.3 501.3 271.1 495.1 247.8 566.0 173.5 573.0 177.2 540.8 210.3 547.4 231.7 478.4 265.8 475.9 242.8 469.4 301.6 476.8 132.8 562.4 267.9 463.5 292.8 458.6 193.9 581.2 223.2 470.1 197.2 586.1 221.6 510.6 124.6 615.8 239.5 509.6 226.9 502.8 137.6 639.1 143.1 582.5 215.7 536.6 275.5 465.7 204.7 546.5 140.5 556.0 209.0 509.7 196.2 482.7 118.2 621.2 289.4 485.8 277.2 518.2 85.9 639.8 136.4 611.5 280.1 464.1 263.0 492.4 200.7 478.8 281.3 473.2 219.7 524.1 165.5 559.1 149.3 545.1 266.8 494.6 119.3 653.0 147.4 568.0 85.1 666.2 256.9 527.2 75.9 645.3 207.1 565.5 179.7 572.0 259.3 487.0 186.8 586.3 72.1 641.2 277.0 585.8 283.4 485.5 137.6 617.9 243.9 511.0 208.9 558.8 191.1 563.4 121.5 643.0 199.9 539.9 83.6 657.1 163.1 602.9 199.0 584.3 224.9 487.9 239.5 504.7 217.6 492.9 201.7 527.7 282.1 496.4 219.4 547.4 207.5 582.5 216.5 553.6 94.2 647.7 252.8 573.2 287.2 507.5 190.0 561.1 176.8 463.5 141.5 617.9 261.2 495.0 297.8 458.6 182.4 548.4 122.3 649.2 149.8 542.0 55.6 643.3 286.1 494.9 231.3 581.9 285.6 505.3 92.2 614.1 170.5 601.1 273.7 507.9 184.1 571.2 143.4 599.9 152.5 554.9 170.7 603.5 236.8 494.7 271.8 499.0 282.6 458.7 164.8 580.0 129.4 497.7 178.3 505.1 171.2 545.4 90.4 598.2 254.9 492.2 277.7 493.7 293.7 495.0 200.2 517.1 247.3 528.9 276.1 479.7 269.4 492.3 224.4 596.2 234.0 514.9 223.4 475.7 162.4 485.3 73.0 649.2 239.6 529.7 199.3 558.9 166.8 529.4 285.7 484.3 123.2 477.9 150.2 547.3 216.3 598.8 74.1 641.5 193.6 569.4 188.6 557.2 224.0 571.4 228.6 540.3 162.7 547.9 186.6 533.1 268.0 513.6 187.3 527.1 250.0 547.8 292.6 565.3 290.5 482.2 187.8 576.3 195.6 560.9 284.1 545.3 120.5 617.6 150.6 495.7 275.5 467.7 262.1 570.8 198.8 554.8 168.7 541.0 90.7 671.9 221.1 488.8 156.5 595.6 119.3 613.5 213.8 547.6 261.6 541.3 158.1 561.6 274.1 460.1 224.5 497.6 242.8 504.3 151.5 550.5 199.9 529.1 181.6 529.7 221.5 534.3 155.6 586.3 155.1 583.2 276.8 503.7 294.1 473.3 186.6 551.4 138.1 581.7 283.1 500.5 241.7 465.4 233.6 538.6 155.3 498.9 235.2 487.1 236.0 586.1 194.0 534.7 280.4 498.2 184.0 581.0 262.6 506.3 164.1 557.3 213.0 578.4"/>
<line class="ax" x1="23.6" y1="447.0" x2="23.6" y2="692.7"/>
<line class="ax" x1="23.6" y1="692.2" x2="321.7" y2="692.2"/>
<text class="t" x="31.0" y="706.6" text-anchor="middle" letter-spacing="0.0">2</text>
<text class="t" x="69.8" y="706.6" text-anchor="middle" letter-spacing="0.0">3</text>
<text class="t" x="108.6" y="706.6" text-anchor="middle" letter-spacing="0.0">4</text>
<text class="t" x="147.4" y="706.6" text-anchor="middle" letter-spacing="0.0">5</text>
<text class="t" x="186.2" y="706.6" text-anchor="middle" letter-spacing="0.0">6</text>
<text class="t" x="224.9" y="706.6" text-anchor="middle" letter-spacing="0.0">7</text>
<text class="t" x="263.7" y="706.6" text-anchor="middle" letter-spacing="0.0">8</text>
<text class="t" x="302.5" y="706.6" text-anchor="middle" letter-spacing="0.0">9</text>
<text class="t" x="16.3" y="685.2" text-anchor="end" letter-spacing="0.0">2</text>
<text class="t" x="16.3" y="653.4" text-anchor="end" letter-spacing="0.0">3</text>
<text class="t" x="16.3" y="621.5" text-anchor="end" letter-spacing="0.0">4</text>
<text class="t" x="16.3" y="589.6" text-anchor="end" letter-spacing="0.0">5</text>
<text class="t" x="16.3" y="557.8" text-anchor="end" letter-spacing="0.0">6</text>
<text class="t" x="16.3" y="525.9" text-anchor="end" letter-spacing="0.0">7</text>
<text class="t" x="16.3" y="494.0" text-anchor="end" letter-spacing="0.0">8</text>
<text class="t" x="16.3" y="462.1" text-anchor="end" letter-spacing="0.0">9</text>
<text class="l" x="172.5" y="717.7" text-anchor="middle" textLength="43.4" lengthAdjust="spacingAndGlyphs">Predicted</text>
<text class="l" transform="translate(7.0 571.0) rotate(-90)" text-anchor="middle" textLength="43.7" lengthAdjust="spacingAndGlyphs">Measured</text>
<text class="p" x="199.4" y="761.6" text-anchor="middle" letter-spacing="2.8">(C)</text>
<path class="pts" d="M480.2 623.3 484.3 625.1 543.1 555.7 490.6 593.4 459.5 619.8 551.3 546.9 542.5 574.6 509.1 556.9 532.0 587.9 431.5 680.6 548.4 522.9 453.3 604.7 647.1 473.4 567.3 553.4 559.0 535.7 482.4 592.8 452.1 608.6 555.5 536.3 535.8 546.8 484.2 599.3 635.5 505.5 559.6 549.2 467.2 609.8 562.2 591.7 445.0 636.3 473.5 664.9 527.4 480.1 522.3 568.3 494.3 574.0 570.5 491.7 480.0 596.1 428.5 646.3 507.3 592.8 462.2 601.2 580.5 478.9 465.4 645.2 474.9 632.8 482.9 606.5 441.5 645.5 499.3 544.6 469.0 605.8 496.6 576.0 458.4 623.3 501.2 552.1 457.8 666.1 516.6 562.1 531.5 620.4 435.0 631.0 442.1 625.7 508.7 540.4 523.6 595.5 499.1 555.7 547.8 525.3 458.2 549.5 490.8 581.7 480.8 611.5 473.7 629.2 481.4 628.6 494.4 534.3 451.5 643.4 430.3 638.4 517.0 573.4 504.7 607.2 509.8 562.8 482.8 587.2 463.1 662.9 505.6 616.8 496.0 542.6 505.3 523.5 489.4 477.5 537.2 544.5 446.8 582.0 527.7 484.0 508.5 632.2 473.7 616.8 543.1 542.7 536.6 502.5 475.2 554.5 527.3 561.4 498.5 521.2 513.8 613.3 542.5 561.6 538.4 588.8 522.7 628.1 564.3 566.3 450.3 628.6 480.0 563.4 434.6 669.9 471.3 619.2 443.8 621.0 464.3 625.7 521.5 538.8 561.4 540.7 508.1 589.0 532.0 549.7 519.3 594.1 439.7 585.8 564.3 558.4 476.1 610.4 544.8 569.1 526.9 571.0 514.8 576.4 461.9 623.9 504.7 586.9 548.4 516.1 477.2 671.1 608.0 515.6 560.5 489.1 507.9 608.6 419.7 635.4 522.3 535.2 449.2 612.7 389.3 655.2 480.8 615.1 451.5 623.3 391.3 630.7 432.6 655.8 507.9 545.1 448.0 644.0 491.4 615.1 399.0 625.9 512.8 544.2 439.7 594.3 533.9 529.2 446.2 617.4 535.9 537.8 435.6 624.5 456.7 591.2 469.6 676.4 531.6 578.0 500.8 562.8 437.9 632.8 463.7 656.4 529.9 558.7 473.7 608.6 458.4 639.9 439.7 626.3 620.2 520.2 453.3 618.6 501.6 588.3 513.7 596.8 534.9 594.5 477.2 616.3 464.3 631.0 466.6 622.2 529.2 655.8 480.8 671.1 541.3 552.8 619.4 524.7 568.4 488.4 518.5 599.6 435.6 659.6 423.4 576.4 473.1 626.3 399.4 600.0 533.3 520.0 504.4 613.9 423.2 650.7 513.9 607.9 437.4 613.3 532.5 498.7 549.0 561.6 515.9 549.7 524.4 626.6 469.0 626.9 484.7 573.4 530.9 525.9 537.2 568.7 526.4 605.2 527.3 576.2 560.2 532.1 480.2 557.0 528.6 515.8 546.6 545.7 628.4 565.4 467.1 590.2 419.4 655.2 504.9 562.8 512.9 590.1 490.7 552.8 486.9 522.7 571.4 588.8 536.0 552.2 520.5 546.6 457.9 601.6 476.1 636.3 499.7 575.1 487.9 619.8 463.7 642.2 474.0 601.4 406.4 681.4 501.9 533.9 576.7 516.1 433.2 607.6 426.7 648.7 463.1 668.4 449.4 653.1 478.4 609.2 530.7 594.3 546.0 604.5 534.2 583.4 502.1 600.0 513.8 560.3 470.2 610.9 496.9 587.2 560.8 556.6 529.7 523.5 487.2 539.4 520.5 580.0 440.9 596.4 538.4 552.8 499.2 539.4 508.7 565.2 503.8 635.4 584.4 474.2 507.8 550.5 427.0 612.5 412.0 652.6 493.2 585.0 529.2 535.4 518.8 528.3 564.1 516.1 536.0 573.4 536.0 563.4 478.7 550.3 573.5 563.4 556.6 515.6 417.3 584.4 523.6 516.4 502.1 603.9 643.6 463.7 559.6 526.8 606.0 478.4 566.1 573.1 521.6 572.6 467.8 616.8 595.0 514.1 524.6 549.8 446.8 630.4 494.9 617.4 482.3 537.8 503.7 596.2 459.3 595.3 511.1 594.7 529.9 572.8 529.1 539.2 576.9 497.0 416.4 644.0 512.8 555.8 530.6 531.3 540.7 591.7 592.4 509.6 592.4 521.7 524.5 591.8 530.0 552.3 478.4 644.6 506.9 598.0 494.5 595.4 520.3 619.8 455.1 648.7 501.8 592.9 491.5 565.0 440.9 635.1 461.3 613.3 550.7 553.4 541.9 541.0 491.6 576.7 500.8 609.8 463.1 621.0 557.2 524.9 406.7 657.0 518.3 551.1 459.4 557.0 484.3 612.7 518.5 617.4 475.3 566.7 480.6 529.5 397.8 661.3 440.7 604.1 523.1 562.9 486.9 595.1 427.9 623.9 459.5 655.0 445.4 654.0 446.8 646.9 534.1 542.0 501.9 558.7 422.0 634.5 420.6 662.0 511.5 641.6 493.8 605.2 554.9 549.2 527.9 550.2 483.1 631.6 488.3 530.1 511.7 601.3 496.8 561.9 412.6 636.1 515.7 541.9 531.9 537.1 443.3 618.0 499.4 579.8 516.2 615.7 525.3 554.2 495.7 552.7 496.1 638.1 476.6 614.5 479.6 632.8 462.5 645.8 409.0 653.4 573.3 472.4 486.2 549.3 456.6 647.5 570.2 554.5 478.0 574.6 463.3 593.8 507.9 617.4 403.4 601.4 518.5 548.3 480.2 667.2 525.3 541.5 488.9 602.1 432.4 619.8 470.0 568.4 544.0 506.2 455.3 616.3 486.4 565.7 464.1 577.0 502.3 573.4 522.3 558.3 469.4 559.1 516.2 566.8 491.2 549.1 465.2 563.5 514.7 570.7 477.2 620.4 517.3 539.3 492.0 631.6 405.9 632.4 461.3 651.7 527.4 544.5 578.2 525.3 602.1 492.6 532.7 610.4 452.7 607.6 506.3 567.7 475.5 612.7 421.4 576.4 536.6 509.4 458.7 578.7 550.7 594.3 496.1 608.6 415.5 610.6 407.6 599.4 490.5 542.9 476.8 594.5 503.2 625.1 615.6 497.8 531.9 566.4 497.9 642.8 519.7 586.7 477.3 561.9 502.1 576.1 468.7 672.7 562.5 509.4 496.7 634.0 487.1 598.2 546.6 520.0 496.0 557.4 533.9 621.0 486.7 624.5 503.8 508.9 566.7 524.1 452.7 603.5 547.2 562.2 471.8 573.4 486.7 591.3 500.8 623.9 541.5 482.0 538.4 571.1 451.8 655.4 466.0 623.9 578.2 502.5 492.7 589.3 540.5 601.2 517.6 580.6 547.2 539.2 482.4 570.6 471.4 589.6 557.8 564.0 420.2 650.5 500.6 605.3 484.7 558.8 512.5 587.7 487.6 583.3 457.8 615.1 526.4 533.3 489.6 622.2 541.3 527.6 534.5 614.5 476.8 545.5 512.4 565.7 477.6 601.7 495.1 570.1 470.2 580.5 509.6 572.8 493.8 613.9 489.9 559.2 395.5 600.8 504.7 581.8 429.3 586.4 453.9 533.3 464.1 604.2 498.5 647.5 537.8 520.2 442.7 629.5 490.2 653.8 426.5 582.7 496.7 498.7 453.9 642.2 510.5 604.3 440.3 582.3 565.3 577.6 530.4 555.9 575.5 574.4 441.5 622.2 547.8 554.0 429.7 601.2 538.4 516.1 534.0 550.8 481.4 459.4 411.2 636.9 499.9 662.3 550.2 567.9 429.7 652.2 522.5 582.9 596.8 515.3 527.4 522.9 450.3 619.2 475.2 597.9 510.0 552.5 468.4 632.8 502.6 611.5 480.8 674.1 502.6 524.9 502.7 565.9 448.2 665.6 532.8 554.7 482.9 602.1 458.8 584.5 511.8 574.4 504.5 548.2 489.1 573.1 501.8 584.0 430.3 594.7 510.1 577.0 531.2 605.4 487.9 609.2 543.3 536.3 653.5 509.0 485.5 610.4 429.7 679.4 474.5 577.6 414.9 652.2 470.5 600.0 448.0 626.3 528.6 640.1 510.3 518.4 521.9 552.3 546.4 486.7 465.4 641.0 560.2 504.4 486.3 506.6 461.4 582.0 544.5 513.5 517.0 559.5 551.3 560.1 476.3 605.6 526.3 586.3 490.2 609.8 543.3 532.1 573.8 557.5 549.9 540.7 453.3 628.1 498.5 629.8 516.4 532.3 558.2 587.6 540.1 545.7 460.7 608.6 410.5 617.7 433.6 585.8 531.4 563.3 524.7 545.4 499.2 589.7 632.8 503.5 481.0 578.4 508.5 622.2 493.7 578.3 466.4 549.7 430.3 632.2 412.6 609.8 564.3 553.4 541.3 570.5 545.4 488.7 460.7 636.9 526.1 566.4 549.6 583.2 505.1 556.1 564.9 530.9 451.5 612.1 505.3 571.6 446.2 644.6 615.1 477.5 449.7 645.2 432.0 592.7 518.4 555.2 510.0 531.2 459.3 565.3 516.7 589.0 509.6 583.8 617.5 523.2 490.2 570.4 535.1 502.5 498.7 597.9 469.6 649.9 575.5 525.3 558.4 571.1 437.9 624.5 501.3 554.3 531.5 615.7 486.7 614.5 522.8 543.2 542.5 460.7 452.1 567.9 521.8 526.5 522.1 601.3 442.7 601.7 502.2 569.5 545.4 544.5 512.5 582.8 528.3 598.5 566.7 547.5 410.6 644.3 596.2 474.2 486.7 570.5 489.6 578.4 534.0 601.5 603.8 560.1 556.1 584.6 541.3 528.6 496.8 582.2 493.2 625.1 516.1 592.9 430.9 644.3 579.1 567.9 468.5 587.7 484.3 622.2 519.7 522.7 541.3 596.2 482.5 626.9 399.4 667.6 430.5 577.0 473.7 619.8 449.5 598.4 485.5 638.1 479.0 582.6 533.3 525.9 461.9 635.7 432.0 615.3 464.2 586.0 523.5 576.0 534.3 556.7 487.4 561.6 542.8 521.4 480.7 568.1 498.5 625.7 560.0 472.2 523.3 579.1 483.5 595.6 470.8 554.4 402.2 646.9 477.2 634.0 437.4 636.9 544.8 562.2 570.2 558.7 429.7 668.4 457.2 629.2 483.1 582.0 553.7 555.4 559.0 533.3 563.7 521.7 477.2 588.7 516.0 545.7 546.6 551.0 497.3 623.3 519.3 577.1 498.7 593.5 511.1 567.5 549.6 550.4 551.6 656.0 411.4 659.3 435.0 608.9 538.9 575.8 617.0 497.8 472.5 643.4 454.1 677.9 491.4 619.2 525.6 524.9 535.1 509.4 534.5 619.2 613.3 484.6 470.0 549.8 479.6 613.3 537.8 548.6 601.7 545.7 510.3 502.5 484.9 634.0 403.7 644.0 467.2 653.4 420.8 625.5 494.9 627.5 457.7 582.0 432.4 608.6 463.1 616.8 561.4 551.6 457.6 587.7 518.2 605.9 464.3 609.2 504.3 538.1 471.4 585.0 465.4 618.6 547.8 543.3 473.3 564.0 559.0 539.2 518.5 608.9 499.8 549.1 606.8 459.2 511.6 540.6 515.1 584.2 517.4 633.7 564.9 529.2 573.2 500.9 472.9 594.6 553.7 546.3 489.6 616.3 483.7 576.5 574.3 517.6 534.4 567.7 543.1 592.3 513.2 549.2 484.3 637.5 415.5 662.9 575.5 513.1 457.2 609.2 521.1 677.4 518.5 642.2 534.2 539.1 531.3 541.8 463.1 665.8 527.7 519.4 497.5 547.5 508.0 580.4 424.4 634.5 494.4 600.4 586.1 585.2 585.6 524.5 413.8 625.7 476.6 461.9 544.3 565.8"/>
<line class="ax" x1="376.3" y1="448.0" x2="376.3" y2="692.8"/>
<line class="ax" x1="376.3" y1="692.3" x2="666.7" y2="692.3"/>
<text class="t" x="379.8" y="706.6" text-anchor="middle" letter-spacing="0.0">2</text>
<text class="t" x="440.0" y="706.6" text-anchor="middle" letter-spacing="0.0">4</text>
<text class="t" x="500.2" y="706.6" text-anchor="middle" letter-spacing="0.0">6</text>
<text class="t" x="560.3" y="706.6" text-anchor="middle" letter-spacing="0.0">8</text>
<text class="t" x="620.8" y="706.6" text-anchor="middle" letter-spacing="0.6">10</text>
<text class="t" x="368.6" y="686.6" text-anchor="end" letter-spacing="0.0">2</text>
<text class="t" x="368.6" y="641.6" text-anchor="end" letter-spacing="0.0">4</text>
<text class="t" x="368.6" y="596.5" text-anchor="end" letter-spacing="0.0">6</text>
<text class="t" x="368.6" y="551.5" text-anchor="end" letter-spacing="0.0">8</text>
<text class="t" x="369.2" y="506.4" text-anchor="end" letter-spacing="0.6">10</text>
<text class="t" x="369.2" y="461.3" text-anchor="end" letter-spacing="0.6">12</text>
<text class="l" x="521.2" y="717.7" text-anchor="middle" textLength="43.4" lengthAdjust="spacingAndGlyphs">Predicted</text>
<text class="l" transform="translate(354.5 571.3) rotate(-90)" text-anchor="middle" textLength="44.5" lengthAdjust="spacingAndGlyphs">Measured</text>
<text class="p" x="538.0" y="761.4" text-anchor="middle" letter-spacing="2.8">(D)</text>
</svg>
</body></html>
